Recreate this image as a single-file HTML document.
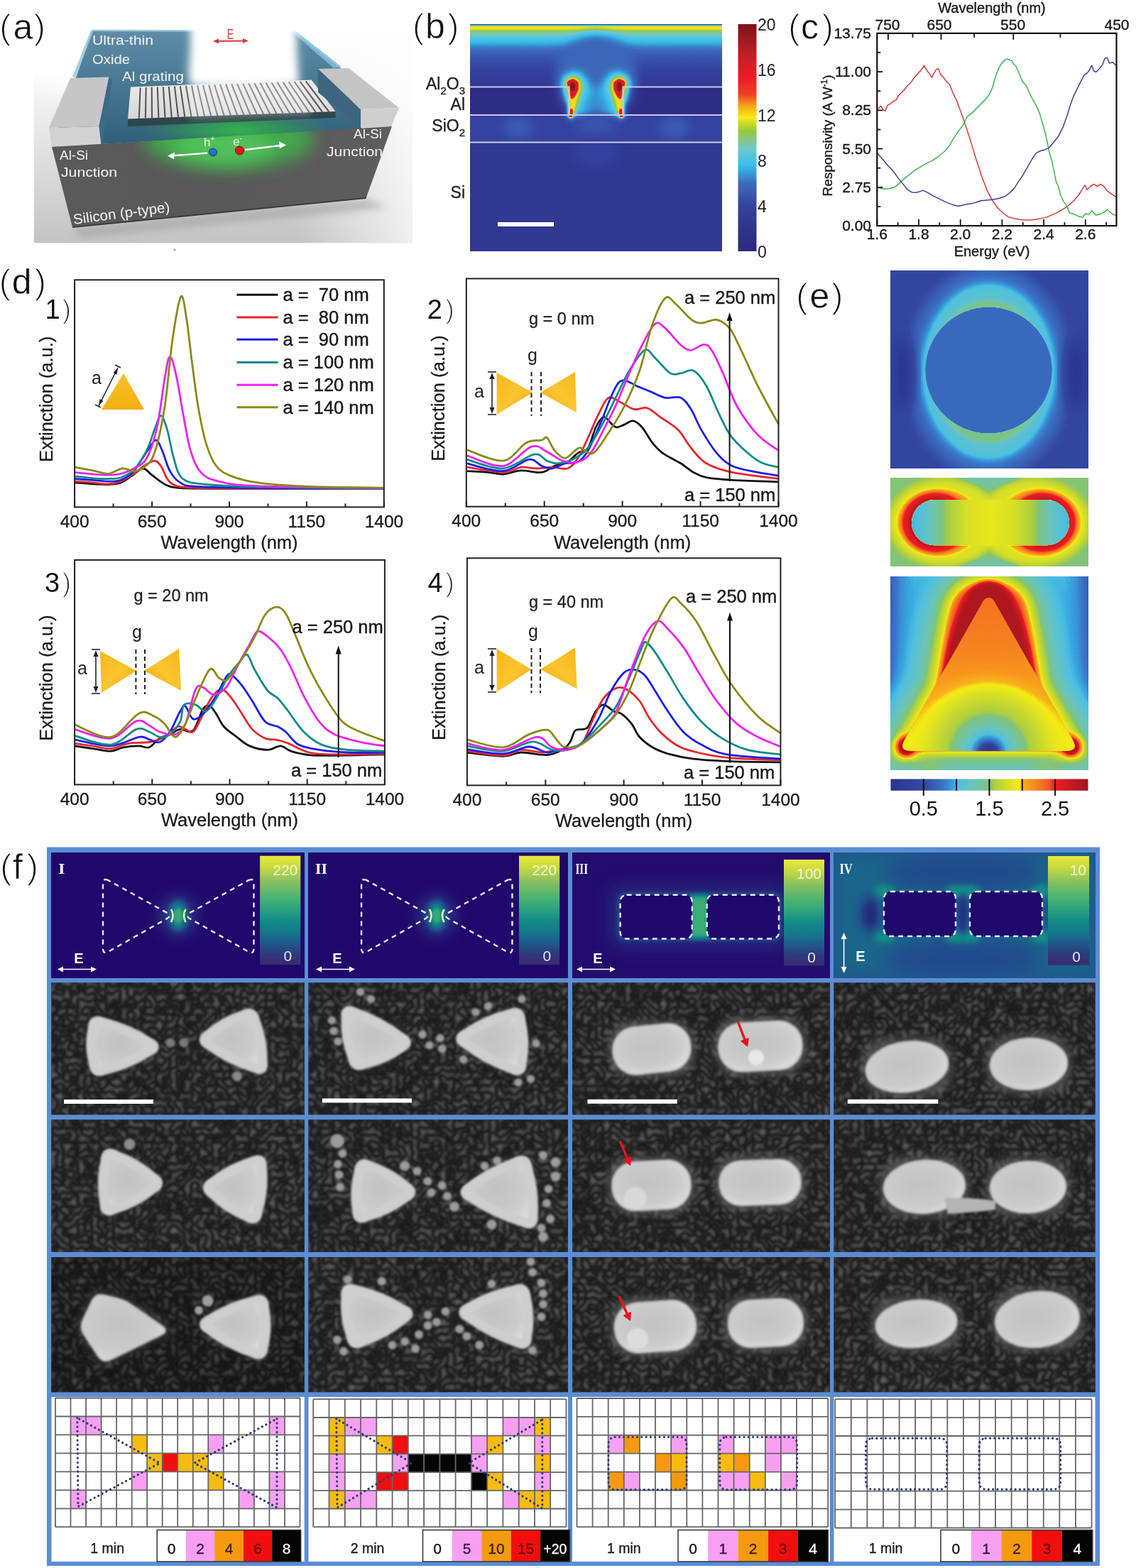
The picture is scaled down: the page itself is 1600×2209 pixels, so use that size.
<!DOCTYPE html>
<html><head><meta charset="utf-8"><title>Figure</title>
<style>html,body{margin:0;padding:0;background:#fff;width:1600px;height:2209px;overflow:hidden}svg{display:block}</style>
</head><body>
<svg width="1600" height="2209" viewBox="0 0 1600 2209" font-family="'Liberation Sans', Arial, sans-serif">
<defs>
<linearGradient id="goldL" x1="0" y1="0" x2="1" y2="1"><stop offset="0" stop-color="#f7b716"/><stop offset="0.5" stop-color="#fbc531"/><stop offset="1" stop-color="#f0a90a"/></linearGradient>
<linearGradient id="goldR" x1="1" y1="0" x2="0" y2="1"><stop offset="0" stop-color="#f7b716"/><stop offset="0.5" stop-color="#fbc531"/><stop offset="1" stop-color="#f0a90a"/></linearGradient>
<linearGradient id="goldT" x1="0" y1="0" x2="0" y2="1"><stop offset="0" stop-color="#f9c22a"/><stop offset="1" stop-color="#f2ae10"/></linearGradient>


<filter id="jetB" filterUnits="userSpaceOnUse" x="662" y="34" width="355" height="320" color-interpolation-filters="sRGB"><feColorMatrix type="matrix" values="1 0 0 0 0  1 0 0 0 0  1 0 0 0 0  0 0 0 0 1"/><feComponentTransfer><feFuncR type="table" tableValues="0.173 0.175 0.178 0.181 0.184 0.189 0.194 0.199 0.204 0.213 0.222 0.230 0.239 0.229 0.220 0.210 0.273 0.354 0.435 0.484 0.533 0.582 0.718 0.875 0.969 0.969 0.962 0.947 0.936 0.931 0.927 0.903 0.866 0.828 0.791 0.750 0.696 0.641 0.587 0.533 0.478"/><feFuncG type="table" tableValues="0.165 0.175 0.184 0.194 0.204 0.219 0.233 0.248 0.263 0.302 0.341 0.380 0.420 0.524 0.628 0.732 0.761 0.771 0.780 0.783 0.785 0.788 0.834 0.891 0.869 0.728 0.565 0.369 0.231 0.180 0.130 0.111 0.113 0.114 0.116 0.116 0.109 0.101 0.094 0.086 0.078"/><feFuncB type="table" tableValues="0.494 0.508 0.522 0.535 0.549 0.569 0.588 0.608 0.627 0.655 0.682 0.710 0.737 0.800 0.862 0.925 0.903 0.859 0.816 0.636 0.455 0.275 0.184 0.116 0.082 0.099 0.115 0.129 0.138 0.139 0.141 0.142 0.143 0.143 0.144 0.143 0.132 0.120 0.109 0.098 0.086"/></feComponentTransfer></filter>
<linearGradient id="bAir" x1="0" y1="34" x2="0" y2="123" gradientUnits="userSpaceOnUse"><stop offset="0.000" stop-color="#1f1f1f"/><stop offset="0.017" stop-color="#666666"/><stop offset="0.039" stop-color="#969696"/><stop offset="0.079" stop-color="#959595"/><stop offset="0.107" stop-color="#828282"/><stop offset="0.157" stop-color="#787878"/><stop offset="0.213" stop-color="#6b6b6b"/><stop offset="0.281" stop-color="#616161"/><stop offset="0.360" stop-color="#525252"/><stop offset="0.517" stop-color="#404040"/><stop offset="0.742" stop-color="#303030"/><stop offset="0.989" stop-color="#242424"/></linearGradient>
<linearGradient id="cbB" x1="0" y1="1" x2="0" y2="0"><stop offset="0.000" stop-color="rgb(44,42,126)"/><stop offset="0.100" stop-color="rgb(47,52,140)"/><stop offset="0.200" stop-color="rgb(52,67,160)"/><stop offset="0.300" stop-color="rgb(61,107,188)"/><stop offset="0.380" stop-color="rgb(53,192,239)"/><stop offset="0.450" stop-color="rgb(111,199,208)"/><stop offset="0.530" stop-color="rgb(151,201,61)"/><stop offset="0.590" stop-color="rgb(247,236,19)"/><stop offset="0.640" stop-color="rgb(247,164,28)"/><stop offset="0.690" stop-color="rgb(239,64,35)"/><stop offset="0.760" stop-color="rgb(236,28,36)"/><stop offset="0.870" stop-color="rgb(194,30,37)"/><stop offset="1.000" stop-color="rgb(122,20,22)"/></linearGradient>
<filter id="bb1" x="-50%" y="-50%" width="200%" height="200%" color-interpolation-filters="sRGB"><feGaussianBlur stdDeviation="1.2"/></filter><filter id="bb2" x="-50%" y="-50%" width="200%" height="200%" color-interpolation-filters="sRGB"><feGaussianBlur stdDeviation="2.5"/></filter><filter id="bb4" x="-50%" y="-50%" width="200%" height="200%" color-interpolation-filters="sRGB"><feGaussianBlur stdDeviation="4"/></filter><filter id="bb8" x="-50%" y="-50%" width="200%" height="200%" color-interpolation-filters="sRGB"><feGaussianBlur stdDeviation="8"/></filter><filter id="bb14" x="-50%" y="-50%" width="200%" height="200%" color-interpolation-filters="sRGB"><feGaussianBlur stdDeviation="14"/></filter>
<filter id="jetE1" filterUnits="userSpaceOnUse" x="1254" y="381.6" width="279" height="278.1" color-interpolation-filters="sRGB"><feColorMatrix type="matrix" values="1 0 0 0 0  1 0 0 0 0  1 0 0 0 0  0 0 0 0 1"/><feComponentTransfer><feFuncR type="table" tableValues="0.165 0.169 0.173 0.176 0.180 0.184 0.188 0.192 0.196 0.200 0.204 0.208 0.213 0.218 0.222 0.227 0.232 0.233 0.224 0.215 0.293 0.331 0.353 0.375 0.397 0.419 0.437 0.453 0.469 0.486 0.502 0.636 0.693 0.731 0.768 0.806 0.844 0.881 0.919 0.957 0.976 0.972 0.969 0.965 0.961 0.957 0.953 0.949 0.945 0.937 0.929 0.899 0.869 0.838 0.808 0.778 0.748 0.718 0.688 0.658 0.627"/><feFuncG type="table" tableValues="0.208 0.215 0.223 0.230 0.238 0.245 0.252 0.260 0.267 0.275 0.282 0.312 0.342 0.372 0.402 0.432 0.462 0.502 0.580 0.659 0.748 0.757 0.760 0.764 0.768 0.772 0.772 0.771 0.770 0.769 0.769 0.798 0.816 0.832 0.848 0.863 0.879 0.894 0.910 0.925 0.700 0.657 0.613 0.570 0.527 0.483 0.440 0.396 0.353 0.230 0.110 0.107 0.105 0.103 0.100 0.098 0.096 0.093 0.091 0.089 0.086"/><feFuncB type="table" tableValues="0.565 0.571 0.577 0.583 0.590 0.596 0.602 0.609 0.615 0.621 0.627 0.652 0.678 0.703 0.729 0.754 0.780 0.807 0.844 0.881 0.884 0.849 0.819 0.788 0.758 0.728 0.682 0.633 0.584 0.535 0.486 0.300 0.244 0.220 0.197 0.173 0.149 0.126 0.102 0.078 0.106 0.110 0.115 0.119 0.124 0.128 0.132 0.137 0.141 0.141 0.141 0.138 0.135 0.132 0.129 0.125 0.122 0.119 0.116 0.113 0.110"/></feComponentTransfer></filter><filter id="jetE2" filterUnits="userSpaceOnUse" x="1254" y="673.8" width="279" height="123.70000000000005" color-interpolation-filters="sRGB"><feColorMatrix type="matrix" values="1 0 0 0 0  1 0 0 0 0  1 0 0 0 0  0 0 0 0 1"/><feComponentTransfer><feFuncR type="table" tableValues="0.165 0.169 0.173 0.176 0.180 0.184 0.188 0.192 0.196 0.200 0.204 0.208 0.213 0.218 0.222 0.227 0.232 0.233 0.224 0.215 0.293 0.331 0.353 0.375 0.397 0.419 0.437 0.453 0.469 0.486 0.502 0.636 0.693 0.731 0.768 0.806 0.844 0.881 0.919 0.957 0.976 0.972 0.969 0.965 0.961 0.957 0.953 0.949 0.945 0.937 0.929 0.899 0.869 0.838 0.808 0.778 0.748 0.718 0.688 0.658 0.627"/><feFuncG type="table" tableValues="0.208 0.215 0.223 0.230 0.238 0.245 0.252 0.260 0.267 0.275 0.282 0.312 0.342 0.372 0.402 0.432 0.462 0.502 0.580 0.659 0.748 0.757 0.760 0.764 0.768 0.772 0.772 0.771 0.770 0.769 0.769 0.798 0.816 0.832 0.848 0.863 0.879 0.894 0.910 0.925 0.700 0.657 0.613 0.570 0.527 0.483 0.440 0.396 0.353 0.230 0.110 0.107 0.105 0.103 0.100 0.098 0.096 0.093 0.091 0.089 0.086"/><feFuncB type="table" tableValues="0.565 0.571 0.577 0.583 0.590 0.596 0.602 0.609 0.615 0.621 0.627 0.652 0.678 0.703 0.729 0.754 0.780 0.807 0.844 0.881 0.884 0.849 0.819 0.788 0.758 0.728 0.682 0.633 0.584 0.535 0.486 0.300 0.244 0.220 0.197 0.173 0.149 0.126 0.102 0.078 0.106 0.110 0.115 0.119 0.124 0.128 0.132 0.137 0.141 0.141 0.141 0.138 0.135 0.132 0.129 0.125 0.122 0.119 0.116 0.113 0.110"/></feComponentTransfer></filter><filter id="jetE3" filterUnits="userSpaceOnUse" x="1254" y="812" width="279" height="272.5" color-interpolation-filters="sRGB"><feColorMatrix type="matrix" values="1 0 0 0 0  1 0 0 0 0  1 0 0 0 0  0 0 0 0 1"/><feComponentTransfer><feFuncR type="table" tableValues="0.165 0.169 0.173 0.176 0.180 0.184 0.188 0.192 0.196 0.200 0.204 0.208 0.213 0.218 0.222 0.227 0.232 0.233 0.224 0.215 0.293 0.331 0.353 0.375 0.397 0.419 0.437 0.453 0.469 0.486 0.502 0.636 0.693 0.731 0.768 0.806 0.844 0.881 0.919 0.957 0.976 0.972 0.969 0.965 0.961 0.957 0.953 0.949 0.945 0.937 0.929 0.899 0.869 0.838 0.808 0.778 0.748 0.718 0.688 0.658 0.627"/><feFuncG type="table" tableValues="0.208 0.215 0.223 0.230 0.238 0.245 0.252 0.260 0.267 0.275 0.282 0.312 0.342 0.372 0.402 0.432 0.462 0.502 0.580 0.659 0.748 0.757 0.760 0.764 0.768 0.772 0.772 0.771 0.770 0.769 0.769 0.798 0.816 0.832 0.848 0.863 0.879 0.894 0.910 0.925 0.700 0.657 0.613 0.570 0.527 0.483 0.440 0.396 0.353 0.230 0.110 0.107 0.105 0.103 0.100 0.098 0.096 0.093 0.091 0.089 0.086"/><feFuncB type="table" tableValues="0.565 0.571 0.577 0.583 0.590 0.596 0.602 0.609 0.615 0.621 0.627 0.652 0.678 0.703 0.729 0.754 0.780 0.807 0.844 0.881 0.884 0.849 0.819 0.788 0.758 0.728 0.682 0.633 0.584 0.535 0.486 0.300 0.244 0.220 0.197 0.173 0.149 0.126 0.102 0.078 0.106 0.110 0.115 0.119 0.124 0.128 0.132 0.137 0.141 0.141 0.141 0.138 0.135 0.132 0.129 0.125 0.122 0.119 0.116 0.113 0.110"/></feComponentTransfer></filter><filter id="eb2" x="-50%" y="-50%" width="200%" height="200%" color-interpolation-filters="sRGB"><feGaussianBlur stdDeviation="2"/></filter><filter id="eb3" x="-50%" y="-50%" width="200%" height="200%" color-interpolation-filters="sRGB"><feGaussianBlur stdDeviation="3"/></filter><filter id="eb4" x="-50%" y="-50%" width="200%" height="200%" color-interpolation-filters="sRGB"><feGaussianBlur stdDeviation="4"/></filter><filter id="eb8" x="-50%" y="-50%" width="200%" height="200%" color-interpolation-filters="sRGB"><feGaussianBlur stdDeviation="8"/></filter><filter id="eb12" x="-50%" y="-50%" width="200%" height="200%" color-interpolation-filters="sRGB"><feGaussianBlur stdDeviation="12"/></filter><filter id="eb6" x="-50%" y="-50%" width="200%" height="200%" color-interpolation-filters="sRGB"><feGaussianBlur stdDeviation="6"/></filter><filter id="eb10" x="-50%" y="-50%" width="200%" height="200%" color-interpolation-filters="sRGB"><feGaussianBlur stdDeviation="10"/></filter><filter id="eb16" x="-50%" y="-50%" width="200%" height="200%" color-interpolation-filters="sRGB"><feGaussianBlur stdDeviation="16"/></filter><linearGradient id="cbE" x1="0" y1="0" x2="1" y2="0"><stop offset="0.000" stop-color="rgb(42,53,144)"/><stop offset="0.167" stop-color="rgb(52,72,160)"/><stop offset="0.280" stop-color="rgb(60,124,204)"/><stop offset="0.330" stop-color="rgb(53,184,232)"/><stop offset="0.334" stop-color="rgb(79,192,224)"/><stop offset="0.420" stop-color="rgb(108,197,184)"/><stop offset="0.500" stop-color="rgb(128,196,124)"/><stop offset="0.520" stop-color="rgb(169,205,67)"/><stop offset="0.650" stop-color="rgb(244,236,20)"/><stop offset="0.666" stop-color="rgb(249,179,27)"/><stop offset="0.800" stop-color="rgb(241,90,36)"/><stop offset="0.833" stop-color="rgb(237,28,36)"/><stop offset="1.000" stop-color="rgb(160,22,28)"/></linearGradient><linearGradient id="eTriBg" x1="0" y1="0" x2="1" y2="0"><stop offset="0.00" stop-color="#383838"/><stop offset="0.05" stop-color="#4a4a4a"/><stop offset="0.12" stop-color="#575757"/><stop offset="0.22" stop-color="#666666"/><stop offset="0.50" stop-color="#707070"/><stop offset="0.78" stop-color="#666666"/><stop offset="0.88" stop-color="#575757"/><stop offset="0.95" stop-color="#4a4a4a"/><stop offset="1.00" stop-color="#383838"/></linearGradient><linearGradient id="eTriIn" x1="0" y1="842" x2="0" y2="1058" gradientUnits="userSpaceOnUse"><stop offset="0.00" stop-color="#c2c2c2"/><stop offset="0.30" stop-color="#bdbdbd"/><stop offset="0.50" stop-color="#b5b5b5"/><stop offset="0.70" stop-color="#ababab"/><stop offset="1.00" stop-color="#a3a3a3"/></linearGradient><linearGradient id="eRodIn" x1="1284" y1="0" x2="1506" y2="0" gradientUnits="userSpaceOnUse"><stop offset="0.00" stop-color="#525252"/><stop offset="0.07" stop-color="#5c5c5c"/><stop offset="0.20" stop-color="#808080"/><stop offset="0.35" stop-color="#999999"/><stop offset="0.50" stop-color="#a1a1a1"/><stop offset="0.65" stop-color="#999999"/><stop offset="0.80" stop-color="#808080"/><stop offset="0.93" stop-color="#5c5c5c"/><stop offset="1.00" stop-color="#525252"/></linearGradient><radialGradient id="eSpot"><stop offset="0" stop-color="#000000"/><stop offset="0.08" stop-color="#1a1a1a"/><stop offset="0.16" stop-color="#474747"/><stop offset="0.24" stop-color="#5c5c5c"/><stop offset="0.35" stop-color="#737373"/><stop offset="0.5" stop-color="#878787"/><stop offset="0.7" stop-color="#999999"/><stop offset="1" stop-color="#a8a8a8" stop-opacity="0"/></radialGradient><clipPath id="eTriClip"><path d="M1385,846 Q1392.5,838 1400,846 L1512,1044 Q1519,1058 1503,1058 L1282,1058 Q1266,1058 1273,1044 Z"/></clipPath>
<filter id="vir0" filterUnits="userSpaceOnUse" x="72.5" y="1201.5" width="356.25" height="176.0" color-interpolation-filters="sRGB"><feColorMatrix type="matrix" values="1 0 0 0 0  1 0 0 0 0  1 0 0 0 0  0 0 0 0 1"/><feComponentTransfer><feFuncR type="table" tableValues="0.129 0.134 0.139 0.144 0.149 0.144 0.139 0.134 0.129 0.122 0.115 0.108 0.101 0.093 0.086 0.082 0.078 0.075 0.071 0.094 0.118 0.141 0.165 0.190 0.216 0.241 0.267 0.313 0.360 0.407 0.454 0.500 0.556 0.613 0.670 0.727 0.784 0.820 0.855 0.890 0.925"/><feFuncG type="table" tableValues="0.031 0.059 0.086 0.114 0.141 0.180 0.220 0.259 0.298 0.325 0.353 0.380 0.408 0.435 0.463 0.482 0.502 0.522 0.541 0.563 0.584 0.606 0.627 0.645 0.663 0.680 0.698 0.709 0.719 0.730 0.740 0.751 0.771 0.794 0.817 0.840 0.863 0.876 0.890 0.904 0.918"/><feFuncB type="table" tableValues="0.420 0.434 0.449 0.464 0.478 0.496 0.514 0.531 0.549 0.548 0.546 0.545 0.544 0.542 0.541 0.539 0.537 0.535 0.533 0.525 0.518 0.510 0.502 0.490 0.478 0.467 0.455 0.443 0.431 0.419 0.407 0.395 0.369 0.339 0.310 0.280 0.251 0.247 0.243 0.239 0.235"/></feComponentTransfer></filter><filter id="vir1" filterUnits="userSpaceOnUse" x="434.5" y="1201.5" width="365.5" height="176.0" color-interpolation-filters="sRGB"><feColorMatrix type="matrix" values="1 0 0 0 0  1 0 0 0 0  1 0 0 0 0  0 0 0 0 1"/><feComponentTransfer><feFuncR type="table" tableValues="0.129 0.134 0.139 0.144 0.149 0.144 0.139 0.134 0.129 0.122 0.115 0.108 0.101 0.093 0.086 0.082 0.078 0.075 0.071 0.094 0.118 0.141 0.165 0.190 0.216 0.241 0.267 0.313 0.360 0.407 0.454 0.500 0.556 0.613 0.670 0.727 0.784 0.820 0.855 0.890 0.925"/><feFuncG type="table" tableValues="0.031 0.059 0.086 0.114 0.141 0.180 0.220 0.259 0.298 0.325 0.353 0.380 0.408 0.435 0.463 0.482 0.502 0.522 0.541 0.563 0.584 0.606 0.627 0.645 0.663 0.680 0.698 0.709 0.719 0.730 0.740 0.751 0.771 0.794 0.817 0.840 0.863 0.876 0.890 0.904 0.918"/><feFuncB type="table" tableValues="0.420 0.434 0.449 0.464 0.478 0.496 0.514 0.531 0.549 0.548 0.546 0.545 0.544 0.542 0.541 0.539 0.537 0.535 0.533 0.525 0.518 0.510 0.502 0.490 0.478 0.467 0.455 0.443 0.431 0.419 0.407 0.395 0.369 0.339 0.310 0.280 0.251 0.247 0.243 0.239 0.235"/></feComponentTransfer></filter><filter id="vir2" filterUnits="userSpaceOnUse" x="806" y="1201.5" width="362.75" height="176.0" color-interpolation-filters="sRGB"><feColorMatrix type="matrix" values="1 0 0 0 0  1 0 0 0 0  1 0 0 0 0  0 0 0 0 1"/><feComponentTransfer><feFuncR type="table" tableValues="0.129 0.134 0.139 0.144 0.149 0.144 0.139 0.134 0.129 0.122 0.115 0.108 0.101 0.093 0.086 0.082 0.078 0.075 0.071 0.094 0.118 0.141 0.165 0.190 0.216 0.241 0.267 0.313 0.360 0.407 0.454 0.500 0.556 0.613 0.670 0.727 0.784 0.820 0.855 0.890 0.925"/><feFuncG type="table" tableValues="0.031 0.059 0.086 0.114 0.141 0.180 0.220 0.259 0.298 0.325 0.353 0.380 0.408 0.435 0.463 0.482 0.502 0.522 0.541 0.563 0.584 0.606 0.627 0.645 0.663 0.680 0.698 0.709 0.719 0.730 0.740 0.751 0.771 0.794 0.817 0.840 0.863 0.876 0.890 0.904 0.918"/><feFuncB type="table" tableValues="0.420 0.434 0.449 0.464 0.478 0.496 0.514 0.531 0.549 0.548 0.546 0.545 0.544 0.542 0.541 0.539 0.537 0.535 0.533 0.525 0.518 0.510 0.502 0.490 0.478 0.467 0.455 0.443 0.431 0.419 0.407 0.395 0.369 0.339 0.310 0.280 0.251 0.247 0.243 0.239 0.235"/></feComponentTransfer></filter><filter id="vir3" filterUnits="userSpaceOnUse" x="1174.5" y="1201.5" width="368.0" height="176.0" color-interpolation-filters="sRGB"><feColorMatrix type="matrix" values="1 0 0 0 0  1 0 0 0 0  1 0 0 0 0  0 0 0 0 1"/><feComponentTransfer><feFuncR type="table" tableValues="0.129 0.134 0.139 0.144 0.149 0.144 0.139 0.134 0.129 0.122 0.115 0.108 0.101 0.093 0.086 0.082 0.078 0.075 0.071 0.094 0.118 0.141 0.165 0.190 0.216 0.241 0.267 0.313 0.360 0.407 0.454 0.500 0.556 0.613 0.670 0.727 0.784 0.820 0.855 0.890 0.925"/><feFuncG type="table" tableValues="0.031 0.059 0.086 0.114 0.141 0.180 0.220 0.259 0.298 0.325 0.353 0.380 0.408 0.435 0.463 0.482 0.502 0.522 0.541 0.563 0.584 0.606 0.627 0.645 0.663 0.680 0.698 0.709 0.719 0.730 0.740 0.751 0.771 0.794 0.817 0.840 0.863 0.876 0.890 0.904 0.918"/><feFuncB type="table" tableValues="0.420 0.434 0.449 0.464 0.478 0.496 0.514 0.531 0.549 0.548 0.546 0.545 0.544 0.542 0.541 0.539 0.537 0.535 0.533 0.525 0.518 0.510 0.502 0.490 0.478 0.467 0.455 0.443 0.431 0.419 0.407 0.395 0.369 0.339 0.310 0.280 0.251 0.247 0.243 0.239 0.235"/></feComponentTransfer></filter><linearGradient id="cbV" x1="0" y1="0" x2="0" y2="1"><stop offset="0.00" stop-color="rgb(234,232,58)"/><stop offset="0.10" stop-color="rgb(200,220,64)"/><stop offset="0.25" stop-color="rgb(130,190,100)"/><stop offset="0.40" stop-color="rgb(68,178,116)"/><stop offset="0.50" stop-color="rgb(42,160,128)"/><stop offset="0.60" stop-color="rgb(18,138,136)"/><stop offset="0.70" stop-color="rgb(21,120,136)"/><stop offset="0.80" stop-color="rgb(30,90,138)"/><stop offset="0.90" stop-color="rgb(46,58,122)"/><stop offset="1.00" stop-color="rgb(58,42,112)"/></linearGradient><filter id="fb1" x="-50%" y="-50%" width="200%" height="200%" color-interpolation-filters="sRGB"><feGaussianBlur stdDeviation="1"/></filter><filter id="fb2" x="-50%" y="-50%" width="200%" height="200%" color-interpolation-filters="sRGB"><feGaussianBlur stdDeviation="2"/></filter><filter id="fb3" x="-50%" y="-50%" width="200%" height="200%" color-interpolation-filters="sRGB"><feGaussianBlur stdDeviation="3"/></filter><filter id="fb5" x="-50%" y="-50%" width="200%" height="200%" color-interpolation-filters="sRGB"><feGaussianBlur stdDeviation="5"/></filter><filter id="fb8" x="-50%" y="-50%" width="200%" height="200%" color-interpolation-filters="sRGB"><feGaussianBlur stdDeviation="8"/></filter><filter id="fb12" x="-50%" y="-50%" width="200%" height="200%" color-interpolation-filters="sRGB"><feGaussianBlur stdDeviation="12"/></filter><filter id="semtex" filterUnits="userSpaceOnUse" x="70" y="1380" width="1475" height="585" color-interpolation-filters="sRGB">
<feTurbulence type="turbulence" baseFrequency="0.1" numOctaves="1" seed="5"/>
<feColorMatrix type="matrix" values="0.42 0 0 0 0.1  0.42 0 0 0 0.1  0.42 0 0 0 0.1  0 0 0 0 1"/>
<feGaussianBlur stdDeviation="1.3"/>
<feComposite in2="SourceGraphic" operator="in"/>
</filter>
<filter id="part" x="-20%" y="-20%" width="140%" height="140%" color-interpolation-filters="sRGB"><feGaussianBlur stdDeviation="1.6"/></filter>
<filter id="halo" x="-50%" y="-50%" width="200%" height="200%" color-interpolation-filters="sRGB"><feGaussianBlur stdDeviation="6"/></filter>
<radialGradient id="partG" cx="0.45" cy="0.45" r="0.6"><stop offset="0" stop-color="#c2c2c2"/><stop offset="0.7" stop-color="#cbcbcb"/><stop offset="1" stop-color="#dcdcdc"/></radialGradient>


<linearGradient id="aBg" x1="0" y1="40" x2="0" y2="342" gradientUnits="userSpaceOnUse"><stop offset="0" stop-color="#ffffff"/><stop offset="0.3" stop-color="#f4f4f4"/><stop offset="0.7" stop-color="#d8d8d8"/><stop offset="1" stop-color="#c4c4c4"/></linearGradient>
<linearGradient id="aBgR" x1="47" y1="0" x2="581" y2="0" gradientUnits="userSpaceOnUse"><stop offset="0" stop-color="#ffffff" stop-opacity="0"/><stop offset="0.7" stop-color="#ffffff" stop-opacity="0"/><stop offset="1" stop-color="#ffffff" stop-opacity="0.75"/></linearGradient>
<linearGradient id="aOx" x1="0" y1="43" x2="0" y2="205" gradientUnits="userSpaceOnUse"><stop offset="0" stop-color="#5f8ca6"/><stop offset="0.5" stop-color="#467791"/><stop offset="1" stop-color="#2f5f78"/></linearGradient>
<linearGradient id="aSi" x1="75" y1="0" x2="552" y2="0" gradientUnits="userSpaceOnUse"><stop offset="0" stop-color="#5a5a5a"/><stop offset="0.5" stop-color="#585858"/><stop offset="1" stop-color="#5e5e5e"/></linearGradient>
<linearGradient id="aGrTop" x1="0" y1="112" x2="0" y2="168" gradientUnits="userSpaceOnUse"><stop offset="0" stop-color="#ececec"/><stop offset="1" stop-color="#d6d6d6"/></linearGradient>
<radialGradient id="aGreen"><stop offset="0" stop-color="#34c24a" stop-opacity="0.95"/><stop offset="0.5" stop-color="#2eae44" stop-opacity="0.6"/><stop offset="1" stop-color="#2a9a40" stop-opacity="0"/></radialGradient>
<radialGradient id="aGlowW"><stop offset="0" stop-color="#ffffff"/><stop offset="0.6" stop-color="#ffffff" stop-opacity="0.95"/><stop offset="1" stop-color="#ffffff" stop-opacity="0"/></radialGradient>
<filter id="ab2" x="-20%" y="-20%" width="140%" height="140%"><feGaussianBlur stdDeviation="2"/></filter>
<filter id="ab6" x="-50%" y="-50%" width="200%" height="200%"><feGaussianBlur stdDeviation="6"/></filter>
<filter id="ab12" x="-50%" y="-50%" width="200%" height="200%"><feGaussianBlur stdDeviation="12"/></filter>
<clipPath id="aClip"><rect x="47.5" y="30" width="533.5" height="312.5"/></clipPath>
<clipPath id="aSiClip"><path d="M73,207 L552,178 L515.6,279 L102,320 Z"/></clipPath>
</defs>
<rect width="1600" height="2209" fill="#fff"/>
<path d="M105.1,679.9 C109.4,680.2 122.6,681.3 130.5,681.8 C138.4,682.2 145.6,682.8 152.3,682.5 C158.9,682.2 164.9,681.9 170.4,679.9 C175.8,678.0 179.7,674.2 184.9,670.9 C190.0,667.6 196.4,660.3 201.2,660.0 C206.0,659.7 209.3,665.7 213.9,669.1 C218.4,672.4 224.1,677.2 228.4,679.9 C232.6,682.7 233.8,684.0 239.3,685.4 C244.7,686.7 246.5,687.4 261.0,687.9 C275.5,688.4 279.6,688.2 326.3,688.3 C372.9,688.3 505.1,688.3 540.9,688.3" fill="none" stroke="#111111" stroke-width="2.8" stroke-linejoin="round"/>
<path d="M105.1,678.1 C109.4,678.4 122.6,679.3 130.5,679.9 C138.4,680.5 145.6,682.1 152.3,681.8 C158.9,681.5 164.3,680.5 170.4,678.1 C176.4,675.7 183.1,670.9 188.5,667.3 C193.9,663.6 198.2,659.4 203.0,656.4 C207.8,653.4 213.6,649.1 217.5,649.1 C221.4,649.1 223.5,652.1 226.6,656.4 C229.6,660.6 232.3,670.0 235.6,674.5 C238.9,679.0 240.5,681.5 246.5,683.6 C252.5,685.7 252.5,686.4 271.9,687.2 C291.2,688.0 317.7,688.1 362.5,688.3 C407.3,688.5 511.1,688.3 540.9,688.3" fill="none" stroke="#e8262a" stroke-width="2.8" stroke-linejoin="round"/>
<path d="M105.1,674.5 C109.4,674.8 122.6,675.7 130.5,676.3 C138.4,676.9 145.6,678.1 152.3,678.1 C158.9,678.1 164.3,678.7 170.4,676.3 C176.4,673.9 182.5,670.3 188.5,663.6 C194.5,657.0 201.5,643.7 206.6,636.4 C211.8,629.2 215.7,620.4 219.3,620.1 C222.9,619.8 225.1,627.4 228.4,634.6 C231.7,641.9 235.0,656.1 239.3,663.6 C243.5,671.2 247.7,676.3 253.8,679.9 C259.8,683.6 257.4,684.1 275.5,685.4 C293.6,686.6 318.3,687.1 362.5,687.6 C406.7,688.0 511.1,688.2 540.9,688.3" fill="none" stroke="#1c1cf0" stroke-width="2.8" stroke-linejoin="round"/>
<path d="M105.1,670.9 C109.4,671.4 122.6,673.2 130.5,673.8 C138.4,674.4 145.6,674.7 152.3,674.5 C158.9,674.3 164.3,674.8 170.4,672.7 C176.4,670.6 182.5,668.2 188.5,661.8 C194.5,655.5 201.8,644.0 206.6,634.6 C211.5,625.3 214.2,613.8 217.5,605.6 C220.8,597.5 223.5,585.7 226.6,585.7 C229.6,585.7 232.6,595.7 235.6,605.6 C238.6,615.6 241.1,634.0 244.7,645.5 C248.3,657.0 249.8,668.3 257.4,674.5 C264.9,680.7 272.5,680.5 290.0,682.5 C307.5,684.4 320.7,685.1 362.5,686.1 C404.3,687.1 511.1,687.9 540.9,688.3" fill="none" stroke="#108a8a" stroke-width="2.8" stroke-linejoin="round"/>
<path d="M105.1,665.4 C109.4,665.9 122.6,667.4 130.5,668.0 C138.4,668.6 145.6,669.2 152.3,669.1 C158.9,668.9 164.3,668.8 170.4,667.3 C176.4,665.7 182.5,663.6 188.5,660.0 C194.5,656.4 201.2,655.2 206.6,645.5 C212.1,635.8 216.9,620.7 221.1,602.0 C225.4,583.3 229.0,549.7 232.0,533.1 C235.0,516.5 236.5,502.9 239.3,502.3 C242.0,501.7 245.3,516.5 248.3,529.5 C251.3,542.5 254.1,562.7 257.4,580.3 C260.7,597.8 264.0,620.4 268.3,634.6 C272.5,648.8 276.1,658.2 282.8,665.4 C289.4,672.7 294.8,674.9 308.1,678.1 C321.4,681.3 323.7,683.1 362.5,684.7 C401.3,686.2 511.1,687.1 540.9,687.6" fill="none" stroke="#f020f0" stroke-width="2.8" stroke-linejoin="round"/>
<path d="M105.1,658.2 C109.4,659.0 122.6,661.4 130.5,662.9 C138.4,664.4 145.3,667.7 152.3,667.3 C159.2,666.8 166.1,660.6 172.2,660.0 C178.2,659.4 183.4,663.9 188.5,663.6 C193.6,663.3 198.2,662.4 203.0,658.2 C207.8,654.0 212.7,652.5 217.5,638.3 C222.3,624.1 227.8,599.6 232.0,573.0 C236.2,546.4 239.1,504.6 242.9,478.8 C246.7,452.9 251.5,422.7 254.8,417.9 C258.2,413.0 260.3,434.8 262.8,449.8 C265.4,464.7 267.3,487.2 270.1,507.8 C272.8,528.3 275.8,553.7 279.1,573.0 C282.5,592.3 285.8,609.9 290.0,623.8 C294.2,637.6 298.5,648.5 304.5,656.4 C310.5,664.2 316.6,667.0 326.3,670.9 C335.9,674.8 344.4,677.5 362.5,679.9 C380.6,682.4 405.3,684.2 435.0,685.4 C464.7,686.6 523.2,686.9 540.9,687.2" fill="none" stroke="#8a8a16" stroke-width="2.8" stroke-linejoin="round"/>
<rect x="105.1" y="394.3" width="435.7" height="320.1" fill="none" stroke="#222" stroke-width="2"/>
<line x1="105.1" y1="714.4" x2="105.1" y2="706.4" stroke="#222" stroke-width="2"/>
<line x1="159.6" y1="714.4" x2="159.6" y2="709.4" stroke="#222" stroke-width="2"/>
<line x1="214.1" y1="714.4" x2="214.1" y2="706.4" stroke="#222" stroke-width="2"/>
<line x1="268.5" y1="714.4" x2="268.5" y2="709.4" stroke="#222" stroke-width="2"/>
<line x1="323.0" y1="714.4" x2="323.0" y2="706.4" stroke="#222" stroke-width="2"/>
<line x1="377.5" y1="714.4" x2="377.5" y2="709.4" stroke="#222" stroke-width="2"/>
<line x1="431.9" y1="714.4" x2="431.9" y2="706.4" stroke="#222" stroke-width="2"/>
<line x1="486.4" y1="714.4" x2="486.4" y2="709.4" stroke="#222" stroke-width="2"/>
<line x1="540.9" y1="714.4" x2="540.9" y2="706.4" stroke="#222" stroke-width="2"/>
<text x="105.1" y="742.9" font-size="24.5" text-anchor="middle" fill="#1a1a1a" stroke="#1a1a1a" stroke-width="0.3">400</text>
<text x="214.1" y="742.9" font-size="24.5" text-anchor="middle" fill="#1a1a1a" stroke="#1a1a1a" stroke-width="0.3">650</text>
<text x="323.0" y="742.9" font-size="24.5" text-anchor="middle" fill="#1a1a1a" stroke="#1a1a1a" stroke-width="0.3">900</text>
<text x="431.9" y="742.9" font-size="24.5" text-anchor="middle" fill="#1a1a1a" stroke="#1a1a1a" stroke-width="0.3">1150</text>
<text x="540.9" y="742.9" font-size="24.5" text-anchor="middle" fill="#1a1a1a" stroke="#1a1a1a" stroke-width="0.3">1400</text>
<text x="323.0" y="773.4" font-size="25.5" text-anchor="middle" fill="#1a1a1a" stroke="#1a1a1a" stroke-width="0.3">Wavelength (nm)</text>
<text transform="translate(74.1,562.3) rotate(-90)" font-size="25.5" text-anchor="middle" fill="#1a1a1a" stroke="#1a1a1a" stroke-width="0.3">Extinction (a.u.)</text>
<path d="M657.9,663.6 C662.7,663.9 678.4,664.7 686.9,665.4 C695.3,666.2 700.8,668.4 708.6,668.0 C716.5,667.6 724.9,663.3 734.0,662.9 C743.1,662.5 755.1,666.5 763.0,665.4 C770.9,664.4 775.1,658.8 781.1,656.4 C787.2,654.0 793.8,654.0 799.3,650.9 C804.7,647.9 808.9,641.6 813.8,638.3 C818.6,634.9 824.0,637.0 828.3,631.0 C832.5,625.0 835.5,609.3 839.1,602.0 C842.8,594.8 846.4,588.4 850.0,587.5 C853.6,586.6 857.9,594.1 860.9,596.6 C863.9,599.0 865.1,601.7 868.1,602.0 C871.1,602.3 875.1,599.9 879.0,598.4 C882.9,596.9 887.5,592.3 891.7,592.9 C895.9,593.5 899.8,596.9 904.4,602.0 C908.9,607.1 914.0,617.7 918.9,623.8 C923.7,629.8 926.7,633.4 933.4,638.3 C940.0,643.1 951.5,648.2 958.8,652.8 C966.0,657.3 970.8,662.1 976.9,665.4 C982.9,668.8 985.9,670.9 995.0,672.7 C1004.1,674.5 1014.3,675.3 1031.3,676.3 C1048.2,677.3 1085.6,678.4 1096.5,678.9" fill="none" stroke="#111111" stroke-width="2.8" stroke-linejoin="round"/>
<path d="M657.9,658.2 C666.3,659.4 695.9,665.4 708.6,665.4 C721.3,665.4 726.1,659.1 734.0,658.2 C741.9,657.3 748.5,660.0 755.8,660.0 C763.0,660.0 770.3,658.2 777.5,658.2 C784.8,658.2 793.2,662.1 799.3,660.0 C805.3,657.9 808.9,652.8 813.8,645.5 C818.6,638.3 823.4,626.8 828.3,616.5 C833.1,606.2 837.9,593.2 842.8,583.9 C847.6,574.5 851.8,563.0 857.3,560.3 C862.7,557.6 869.3,564.8 875.4,567.6 C881.4,570.3 887.5,575.4 893.5,576.6 C899.5,577.8 905.6,573.0 911.6,574.8 C917.7,576.6 922.5,582.4 929.8,587.5 C937.0,592.6 947.9,598.4 955.1,605.6 C962.4,612.9 966.6,623.1 973.3,631.0 C979.9,638.9 985.3,647.0 995.0,652.8 C1004.7,658.5 1014.3,661.8 1031.3,665.4 C1048.2,669.1 1085.6,673.0 1096.5,674.5" fill="none" stroke="#e8262a" stroke-width="2.8" stroke-linejoin="round"/>
<path d="M657.9,652.8 C666.3,654.6 694.1,664.5 708.6,663.6 C723.1,662.7 735.8,648.5 744.9,647.3 C753.9,646.1 757.6,654.3 763.0,656.4 C768.4,658.5 772.1,660.6 777.5,660.0 C782.9,659.4 789.6,654.3 795.6,652.8 C801.7,651.2 808.3,654.0 813.8,650.9 C819.2,647.9 822.8,644.0 828.3,634.6 C833.7,625.3 840.9,607.4 846.4,594.8 C851.8,582.1 856.6,567.9 860.9,558.5 C865.1,549.1 868.1,542.2 871.8,538.6 C875.4,534.9 878.4,535.8 882.6,536.8 C886.9,537.7 891.7,541.6 897.1,544.0 C902.6,546.4 908.6,548.5 915.3,551.3 C921.9,554.0 929.8,558.8 937.0,560.3 C944.3,561.8 952.7,557.6 958.8,560.3 C964.8,563.0 968.4,569.1 973.3,576.6 C978.1,584.2 981.7,595.4 987.8,605.6 C993.8,615.9 1002.3,629.8 1009.5,638.3 C1016.8,646.7 1021.6,651.8 1031.3,656.4 C1040.9,660.9 1056.6,663.1 1067.5,665.4 C1078.4,667.7 1091.7,669.4 1096.5,670.2" fill="none" stroke="#1c1cf0" stroke-width="2.8" stroke-linejoin="round"/>
<path d="M657.9,647.3 C666.3,649.4 692.9,661.2 708.6,660.0 C724.3,658.8 741.9,641.9 752.1,640.1 C762.4,638.3 764.8,647.0 770.3,649.1 C775.7,651.2 778.7,653.1 784.8,652.8 C790.8,652.5 799.3,650.9 806.5,647.3 C813.8,643.7 821.0,639.8 828.3,631.0 C835.5,622.2 843.4,606.8 850.0,594.8 C856.6,582.7 862.1,570.6 868.1,558.5 C874.2,546.4 879.6,533.1 886.3,522.3 C892.9,511.4 902.0,496.3 908.0,493.3 C914.0,490.2 916.5,498.7 922.5,504.1 C928.5,509.6 938.2,522.3 944.3,525.9 C950.3,529.5 953.3,526.5 958.8,525.9 C964.2,525.3 970.8,519.2 976.9,522.3 C982.9,525.3 989.0,533.7 995.0,544.0 C1001.0,554.3 1007.1,571.8 1013.1,583.9 C1019.2,596.0 1022.2,605.6 1031.3,616.5 C1040.3,627.4 1056.6,642.2 1067.5,649.1 C1078.4,656.1 1091.7,656.7 1096.5,658.2" fill="none" stroke="#108a8a" stroke-width="2.8" stroke-linejoin="round"/>
<path d="M657.9,641.9 C666.3,644.3 693.5,658.5 708.6,656.4 C723.7,654.3 738.2,632.5 748.5,629.2 C758.8,625.9 763.0,633.1 770.3,636.4 C777.5,639.8 784.8,646.7 792.0,649.1 C799.3,651.5 807.1,652.8 813.8,650.9 C820.4,649.1 825.8,645.8 831.9,638.3 C837.9,630.7 844.0,617.1 850.0,605.6 C856.0,594.1 862.1,582.7 868.1,569.4 C874.2,556.1 880.2,539.8 886.3,525.9 C892.3,512.0 898.3,497.6 904.4,486.0 C910.4,474.4 917.1,460.2 922.5,456.3 C927.9,452.3 931.0,457.5 937.0,462.4 C943.0,467.4 952.7,480.9 958.8,486.0 C964.8,491.1 967.8,493.4 973.3,493.3 C978.7,493.1 986.5,485.3 991.4,485.3 C996.2,485.3 998.0,487.1 1002.3,493.3 C1006.5,499.4 1010.7,509.0 1016.8,522.3 C1022.8,535.5 1030.0,557.9 1038.5,573.0 C1047.0,588.1 1057.8,602.6 1067.5,612.9 C1077.2,623.1 1091.7,631.0 1096.5,634.6" fill="none" stroke="#f020f0" stroke-width="2.8" stroke-linejoin="round"/>
<path d="M657.9,633.9 C666.3,636.4 694.7,650.8 708.6,649.1 C722.5,647.4 732.2,628.6 741.3,623.8 C750.3,618.9 758.2,621.3 763.0,620.1 C767.8,618.9 767.2,614.1 770.3,616.5 C773.3,618.9 776.9,629.8 781.1,634.6 C785.4,639.5 790.8,645.5 795.6,645.5 C800.5,645.5 806.5,637.0 810.1,634.6 C813.8,632.2 813.1,630.4 817.4,631.0 C821.6,631.6 828.9,641.9 835.5,638.3 C842.1,634.6 850.0,620.1 857.3,609.3 C864.5,598.4 871.8,587.5 879.0,573.0 C886.3,558.5 894.1,541.6 900.8,522.3 C907.4,502.9 912.8,474.0 918.9,457.0 C924.9,440.0 931.6,424.9 937.0,420.0 C942.4,415.2 945.5,423.0 951.5,428.0 C957.5,433.0 967.2,445.2 973.3,449.8 C979.3,454.3 981.7,455.1 987.8,455.2 C993.8,455.3 1002.9,449.3 1009.5,450.5 C1016.1,451.7 1022.2,455.9 1027.6,462.4 C1033.1,469.0 1035.5,476.0 1042.1,489.6 C1048.8,503.2 1058.4,526.0 1067.5,544.0 C1076.6,562.0 1091.7,588.7 1096.5,597.7" fill="none" stroke="#8a8a16" stroke-width="2.8" stroke-linejoin="round"/>
<rect x="656.8" y="392.5" width="439.7" height="321.2" fill="none" stroke="#222" stroke-width="2"/>
<line x1="656.8" y1="713.7" x2="656.8" y2="705.7" stroke="#222" stroke-width="2"/>
<line x1="711.8" y1="713.7" x2="711.8" y2="708.7" stroke="#222" stroke-width="2"/>
<line x1="766.7" y1="713.7" x2="766.7" y2="705.7" stroke="#222" stroke-width="2"/>
<line x1="821.7" y1="713.7" x2="821.7" y2="708.7" stroke="#222" stroke-width="2"/>
<line x1="876.6" y1="713.7" x2="876.6" y2="705.7" stroke="#222" stroke-width="2"/>
<line x1="931.6" y1="713.7" x2="931.6" y2="708.7" stroke="#222" stroke-width="2"/>
<line x1="986.6" y1="713.7" x2="986.6" y2="705.7" stroke="#222" stroke-width="2"/>
<line x1="1041.5" y1="713.7" x2="1041.5" y2="708.7" stroke="#222" stroke-width="2"/>
<line x1="1096.5" y1="713.7" x2="1096.5" y2="705.7" stroke="#222" stroke-width="2"/>
<text x="656.8" y="742.2" font-size="24.5" text-anchor="middle" fill="#1a1a1a" stroke="#1a1a1a" stroke-width="0.3">400</text>
<text x="766.7" y="742.2" font-size="24.5" text-anchor="middle" fill="#1a1a1a" stroke="#1a1a1a" stroke-width="0.3">650</text>
<text x="876.6" y="742.2" font-size="24.5" text-anchor="middle" fill="#1a1a1a" stroke="#1a1a1a" stroke-width="0.3">900</text>
<text x="986.6" y="742.2" font-size="24.5" text-anchor="middle" fill="#1a1a1a" stroke="#1a1a1a" stroke-width="0.3">1150</text>
<text x="1096.5" y="742.2" font-size="24.5" text-anchor="middle" fill="#1a1a1a" stroke="#1a1a1a" stroke-width="0.3">1400</text>
<text x="876.6" y="772.7" font-size="25.5" text-anchor="middle" fill="#1a1a1a" stroke="#1a1a1a" stroke-width="0.3">Wavelength (nm)</text>
<text transform="translate(625.8,561.1) rotate(-90)" font-size="25.5" text-anchor="middle" fill="#1a1a1a" stroke="#1a1a1a" stroke-width="0.3">Extinction (a.u.)</text>
<path d="M105.1,1050.9 C109.4,1051.5 122.0,1053.4 130.5,1054.6 C139.0,1055.8 148.6,1058.5 155.9,1058.2 C163.1,1057.9 167.4,1054.0 174.0,1052.8 C180.6,1051.5 189.7,1050.9 195.8,1050.9 C201.8,1050.9 205.4,1054.6 210.3,1052.8 C215.1,1050.9 219.9,1043.1 224.8,1040.1 C229.6,1037.0 234.4,1036.7 239.3,1034.6 C244.1,1032.5 248.9,1028.0 253.8,1027.4 C258.6,1026.8 264.6,1031.6 268.3,1031.0 C271.9,1030.4 272.5,1029.2 275.5,1023.8 C278.5,1018.3 283.1,1003.2 286.4,998.4 C289.7,993.5 292.4,993.5 295.4,994.8 C298.5,996.0 301.2,1000.8 304.5,1005.6 C307.8,1010.5 310.5,1018.3 315.4,1023.8 C320.2,1029.2 327.5,1033.7 333.5,1038.3 C339.5,1042.8 344.4,1047.9 351.6,1050.9 C358.9,1054.0 369.8,1056.4 377.0,1056.4 C384.3,1056.4 389.7,1050.6 395.1,1050.9 C400.6,1051.2 403.0,1056.1 409.6,1058.2 C416.3,1060.3 424.7,1062.6 435.0,1063.6 C445.3,1064.7 453.4,1064.5 471.3,1064.4 C489.1,1064.2 530.2,1063.1 541.9,1062.9" fill="none" stroke="#111111" stroke-width="2.8" stroke-linejoin="round"/>
<path d="M105.1,1047.3 C109.4,1047.9 122.0,1049.7 130.5,1050.9 C139.0,1052.1 147.4,1055.2 155.9,1054.6 C164.3,1054.0 172.2,1048.8 181.3,1047.3 C190.3,1045.8 201.8,1047.0 210.3,1045.5 C218.7,1044.0 225.4,1041.9 232.0,1038.3 C238.6,1034.6 245.3,1025.6 250.1,1023.8 C255.0,1021.9 257.4,1026.2 261.0,1027.4 C264.6,1028.6 268.3,1033.4 271.9,1031.0 C275.5,1028.6 278.5,1020.7 282.8,1012.9 C287.0,1005.0 292.4,990.8 297.3,983.9 C302.1,976.9 306.9,971.2 311.8,971.2 C316.6,971.2 321.4,978.1 326.3,983.9 C331.1,989.6 335.9,998.4 340.8,1005.6 C345.6,1012.9 349.8,1021.6 355.3,1027.4 C360.7,1033.1 367.3,1037.5 373.4,1040.1 C379.4,1042.6 386.1,1041.4 391.5,1042.6 C396.9,1043.8 398.8,1044.4 406.0,1047.3 C413.3,1050.2 424.1,1057.4 435.0,1060.0 C445.9,1062.6 453.4,1062.6 471.3,1062.9 C489.1,1063.2 530.2,1062.0 541.9,1061.8" fill="none" stroke="#e8262a" stroke-width="2.8" stroke-linejoin="round"/>
<path d="M105.1,1041.9 C113.6,1043.4 140.8,1051.5 155.9,1050.9 C171.0,1050.3 186.7,1039.8 195.8,1038.3 C204.8,1036.7 205.4,1040.7 210.3,1041.9 C215.1,1043.1 219.9,1047.3 224.8,1045.5 C229.6,1043.7 234.4,1038.3 239.3,1031.0 C244.1,1023.8 250.1,1008.0 253.8,1002.0 C257.4,996.0 258.0,992.9 261.0,994.8 C264.0,996.6 267.6,1011.1 271.9,1012.9 C276.1,1014.7 280.9,1011.1 286.4,1005.6 C291.8,1000.2 299.1,989.0 304.5,980.3 C309.9,971.5 315.4,957.9 319.0,953.1 C322.6,948.2 322.6,949.1 326.3,951.3 C329.9,953.4 335.9,959.7 340.8,965.8 C345.6,971.8 349.8,979.0 355.3,987.5 C360.7,996.0 367.3,1010.5 373.4,1016.5 C379.4,1022.5 386.7,1021.3 391.5,1023.8 C396.3,1026.2 397.5,1026.8 402.4,1031.0 C407.2,1035.2 412.6,1044.9 420.5,1049.1 C428.4,1053.4 438.0,1054.6 449.5,1056.4 C461.0,1058.2 474.0,1059.4 489.4,1060.0 C504.8,1060.6 533.2,1060.0 541.9,1060.0" fill="none" stroke="#1c1cf0" stroke-width="2.8" stroke-linejoin="round"/>
<path d="M105.1,1036.4 C113.6,1038.6 141.4,1050.6 155.9,1049.1 C170.4,1047.6 183.1,1030.4 192.1,1027.4 C201.2,1024.4 204.8,1029.2 210.3,1031.0 C215.7,1032.8 219.9,1037.6 224.8,1038.3 C229.6,1038.9 234.4,1038.3 239.3,1034.6 C244.1,1031.0 250.4,1023.4 253.8,1016.5 C257.1,1009.6 255.6,996.9 259.2,992.9 C262.8,989.0 270.4,991.4 275.5,992.9 C280.6,994.4 285.2,1003.5 290.0,1002.0 C294.8,1000.5 299.1,992.3 304.5,983.9 C309.9,975.4 317.2,959.7 322.6,951.3 C328.1,942.8 332.9,938.0 337.1,933.1 C341.4,928.3 344.4,920.4 348.0,922.3 C351.6,924.1 354.0,935.5 358.9,944.0 C363.7,952.5 371.6,966.4 377.0,973.0 C382.4,979.6 386.7,979.0 391.5,983.9 C396.3,988.7 400.0,994.1 406.0,1002.0 C412.0,1009.9 419.9,1023.1 427.8,1031.0 C435.6,1038.9 442.9,1044.9 453.1,1049.1 C463.4,1053.4 474.6,1054.9 489.4,1056.4 C504.2,1057.9 533.2,1057.9 541.9,1058.2" fill="none" stroke="#108a8a" stroke-width="2.8" stroke-linejoin="round"/>
<path d="M105.1,1027.4 C113.6,1029.5 141.4,1042.0 155.9,1040.1 C170.4,1038.1 183.1,1018.8 192.1,1015.8 C201.2,1012.8 204.8,1019.4 210.3,1021.9 C215.7,1024.5 218.7,1028.9 224.8,1031.0 C230.8,1033.1 240.5,1036.4 246.5,1034.6 C252.5,1032.8 256.2,1030.7 261.0,1020.1 C265.8,1009.6 271.3,979.8 275.5,971.2 C279.7,962.6 282.1,967.4 286.4,968.7 C290.6,969.9 295.4,978.6 300.9,978.4 C306.3,978.3 313.0,975.1 319.0,967.6 C325.0,960.0 331.7,943.1 337.1,933.1 C342.6,923.2 347.4,915.0 351.6,907.8 C355.9,900.5 358.3,891.4 362.5,889.6 C366.7,887.8 371.6,892.6 377.0,896.9 C382.4,901.1 389.7,907.8 395.1,915.0 C400.6,922.3 404.2,929.5 409.6,940.4 C415.1,951.3 421.1,967.6 427.8,980.3 C434.4,992.9 442.3,1007.4 449.5,1016.5 C456.8,1025.6 461.6,1029.8 471.3,1034.6 C480.9,1039.5 495.7,1042.8 507.5,1045.5 C519.3,1048.2 536.2,1050.0 541.9,1050.9" fill="none" stroke="#f020f0" stroke-width="2.8" stroke-linejoin="round"/>
<path d="M105.1,1020.9 C113.6,1023.8 140.8,1040.9 155.9,1038.3 C171.0,1035.6 185.5,1009.7 195.8,1004.9 C206.0,1000.1 211.5,1006.7 217.5,1009.3 C223.5,1011.8 227.2,1015.3 232.0,1020.1 C236.8,1025.0 241.7,1038.3 246.5,1038.3 C251.3,1038.3 256.2,1029.2 261.0,1020.1 C265.8,1011.1 269.8,996.7 275.5,983.9 C281.2,971.1 290.0,948.1 295.4,943.3 C300.9,938.4 304.2,952.3 308.1,954.9 C312.1,957.4 315.4,960.3 319.0,958.5 C322.6,956.7 325.6,950.0 329.9,944.0 C334.1,938.0 339.5,930.1 344.4,922.3 C349.2,914.4 354.0,906.2 358.9,896.9 C363.7,887.5 368.2,873.0 373.4,866.1 C378.5,859.1 384.9,855.5 389.7,855.2 C394.5,854.9 397.8,857.3 402.4,864.3 C406.9,871.2 411.4,884.2 416.9,896.9 C422.3,909.6 428.4,926.5 435.0,940.4 C441.6,954.3 448.9,967.6 456.8,980.3 C464.6,992.9 473.7,1008.0 482.1,1016.5 C490.6,1025.0 497.5,1026.5 507.5,1031.0 C517.5,1035.5 536.2,1041.6 541.9,1043.7" fill="none" stroke="#8a8a16" stroke-width="2.8" stroke-linejoin="round"/>
<rect x="105.1" y="788.9" width="436.8" height="316.5" fill="none" stroke="#222" stroke-width="2"/>
<line x1="105.1" y1="1105.3" x2="105.1" y2="1097.3" stroke="#222" stroke-width="2"/>
<line x1="159.7" y1="1105.3" x2="159.7" y2="1100.3" stroke="#222" stroke-width="2"/>
<line x1="214.3" y1="1105.3" x2="214.3" y2="1097.3" stroke="#222" stroke-width="2"/>
<line x1="268.9" y1="1105.3" x2="268.9" y2="1100.3" stroke="#222" stroke-width="2"/>
<line x1="323.5" y1="1105.3" x2="323.5" y2="1097.3" stroke="#222" stroke-width="2"/>
<line x1="378.1" y1="1105.3" x2="378.1" y2="1100.3" stroke="#222" stroke-width="2"/>
<line x1="432.7" y1="1105.3" x2="432.7" y2="1097.3" stroke="#222" stroke-width="2"/>
<line x1="487.3" y1="1105.3" x2="487.3" y2="1100.3" stroke="#222" stroke-width="2"/>
<line x1="541.9" y1="1105.3" x2="541.9" y2="1097.3" stroke="#222" stroke-width="2"/>
<text x="105.1" y="1133.8" font-size="24.5" text-anchor="middle" fill="#1a1a1a" stroke="#1a1a1a" stroke-width="0.3">400</text>
<text x="214.3" y="1133.8" font-size="24.5" text-anchor="middle" fill="#1a1a1a" stroke="#1a1a1a" stroke-width="0.3">650</text>
<text x="323.5" y="1133.8" font-size="24.5" text-anchor="middle" fill="#1a1a1a" stroke="#1a1a1a" stroke-width="0.3">900</text>
<text x="432.7" y="1133.8" font-size="24.5" text-anchor="middle" fill="#1a1a1a" stroke="#1a1a1a" stroke-width="0.3">1150</text>
<text x="541.9" y="1133.8" font-size="24.5" text-anchor="middle" fill="#1a1a1a" stroke="#1a1a1a" stroke-width="0.3">1400</text>
<text x="323.5" y="1164.3" font-size="25.5" text-anchor="middle" fill="#1a1a1a" stroke="#1a1a1a" stroke-width="0.3">Wavelength (nm)</text>
<text transform="translate(74.1,955.1) rotate(-90)" font-size="25.5" text-anchor="middle" fill="#1a1a1a" stroke="#1a1a1a" stroke-width="0.3">Extinction (a.u.)</text>
<path d="M657.9,1060.0 C666.3,1060.9 695.9,1065.4 708.6,1065.4 C721.3,1065.4 723.7,1060.3 734.0,1060.0 C744.3,1059.7 760.6,1064.2 770.3,1063.6 C779.9,1063.0 786.6,1059.4 792.0,1056.4 C797.4,1053.4 799.9,1050.0 802.9,1045.5 C805.9,1041.0 807.1,1032.2 810.1,1029.2 C813.1,1026.2 818.0,1028.3 821.0,1027.4 C824.0,1026.5 825.2,1028.0 828.3,1023.8 C831.3,1019.5 835.5,1007.1 839.1,1002.0 C842.8,996.9 845.8,992.9 850.0,992.9 C854.2,992.9 860.3,999.9 864.5,1002.0 C868.7,1004.1 871.1,1002.6 875.4,1005.6 C879.6,1008.6 885.6,1014.7 889.9,1020.1 C894.1,1025.6 895.9,1032.8 900.8,1038.3 C905.6,1043.7 912.2,1048.8 918.9,1052.8 C925.5,1056.7 931.0,1059.1 940.6,1061.8 C950.3,1064.5 961.8,1067.3 976.9,1069.1 C992.0,1070.9 1010.8,1071.9 1031.3,1072.7 C1051.7,1073.5 1088.0,1073.6 1099.4,1073.8" fill="none" stroke="#111111" stroke-width="2.8" stroke-linejoin="round"/>
<path d="M657.9,1058.2 C666.3,1059.2 695.9,1064.7 708.6,1064.4 C721.3,1064.1 724.9,1057.1 734.0,1056.4 C743.1,1055.7 754.5,1060.0 763.0,1060.0 C771.5,1060.0 777.5,1057.6 784.8,1056.4 C792.0,1055.2 800.5,1054.6 806.5,1052.8 C812.5,1050.9 816.2,1052.1 821.0,1045.5 C825.8,1038.9 830.7,1023.1 835.5,1012.9 C840.3,1002.6 844.6,991.1 850.0,983.9 C855.4,976.6 862.7,971.5 868.1,969.4 C873.6,967.3 877.2,968.2 882.6,971.2 C888.1,974.2 895.3,980.6 900.8,987.5 C906.2,994.4 909.8,1005.0 915.3,1012.9 C920.7,1020.7 926.1,1028.0 933.4,1034.6 C940.6,1041.3 948.5,1048.0 958.8,1052.8 C969.0,1057.5 982.9,1060.4 995.0,1062.9 C1007.1,1065.4 1013.9,1066.6 1031.3,1068.0 C1048.7,1069.3 1088.0,1070.4 1099.4,1070.9" fill="none" stroke="#e8262a" stroke-width="2.8" stroke-linejoin="round"/>
<path d="M657.9,1055.7 C666.3,1056.7 694.1,1062.4 708.6,1061.8 C723.1,1061.2 734.6,1052.3 744.9,1052.0 C755.1,1051.7 763.0,1059.3 770.3,1060.0 C777.5,1060.7 782.3,1057.6 788.4,1056.4 C794.4,1055.2 801.1,1054.6 806.5,1052.8 C811.9,1050.9 815.0,1052.1 821.0,1045.5 C827.0,1038.9 836.1,1025.0 842.8,1012.9 C849.4,1000.8 854.8,983.9 860.9,973.0 C866.9,962.1 873.6,952.6 879.0,947.6 C884.4,942.7 888.7,942.7 893.5,943.3 C898.3,943.9 903.2,946.3 908.0,951.3 C912.8,956.2 917.1,964.5 922.5,973.0 C927.9,981.5 934.0,992.3 940.6,1002.0 C947.3,1011.7 954.5,1023.1 962.4,1031.0 C970.2,1038.9 977.5,1043.8 987.8,1049.1 C998.0,1054.4 1005.4,1059.6 1024.0,1062.9 C1042.6,1066.2 1086.8,1068.0 1099.4,1069.1" fill="none" stroke="#1c1cf0" stroke-width="2.8" stroke-linejoin="round"/>
<path d="M657.9,1050.9 C666.3,1052.1 693.2,1059.2 708.6,1058.2 C724.0,1057.2 738.8,1045.1 750.3,1044.8 C761.8,1044.5 769.3,1054.4 777.5,1056.4 C785.7,1058.3 792.0,1058.2 799.3,1056.4 C806.5,1054.6 813.1,1051.5 821.0,1045.5 C828.9,1039.5 838.5,1028.6 846.4,1020.1 C854.2,1011.7 861.5,1005.6 868.1,994.8 C874.8,983.9 880.2,968.8 886.3,954.9 C892.3,941.0 900.5,919.7 904.4,911.4 C908.3,903.0 906.8,903.6 909.8,904.9 C912.8,906.1 917.4,911.5 922.5,918.6 C927.6,925.8 934.0,936.8 940.6,947.6 C947.3,958.5 954.5,972.4 962.4,983.9 C970.2,995.4 978.7,1007.1 987.8,1016.5 C996.8,1025.9 1005.9,1033.4 1016.8,1040.1 C1027.6,1046.7 1039.2,1052.6 1053.0,1056.4 C1066.8,1060.2 1091.7,1061.8 1099.4,1062.9" fill="none" stroke="#108a8a" stroke-width="2.8" stroke-linejoin="round"/>
<path d="M657.9,1047.3 C666.3,1048.8 692.3,1057.9 708.6,1056.4 C724.9,1054.9 744.3,1038.9 755.8,1038.3 C767.2,1037.6 770.3,1049.7 777.5,1052.8 C784.8,1055.8 792.0,1057.3 799.3,1056.4 C806.5,1055.5 812.5,1052.8 821.0,1047.3 C829.5,1041.9 842.1,1031.3 850.0,1023.8 C857.9,1016.2 862.1,1014.1 868.1,1002.0 C874.2,989.9 879.6,968.8 886.3,951.3 C892.9,933.7 901.4,909.6 908.0,896.9 C914.6,884.2 920.7,876.9 926.1,875.1 C931.6,873.3 934.6,880.0 940.6,886.0 C946.7,892.0 955.1,901.1 962.4,911.4 C969.6,921.6 976.3,934.9 984.1,947.6 C992.0,960.3 1000.4,975.4 1009.5,987.5 C1018.6,999.6 1028.8,1011.7 1038.5,1020.1 C1048.2,1028.6 1057.4,1032.9 1067.5,1038.3 C1077.7,1043.6 1094.1,1049.7 1099.4,1052.0" fill="none" stroke="#f020f0" stroke-width="2.8" stroke-linejoin="round"/>
<path d="M657.9,1041.9 C666.3,1043.7 694.1,1054.0 708.6,1052.8 C723.1,1051.5 734.6,1038.7 744.9,1034.6 C755.1,1030.5 764.2,1027.5 770.3,1028.1 C776.3,1028.7 777.5,1034.4 781.1,1038.3 C784.8,1042.1 787.8,1048.5 792.0,1050.9 C796.2,1053.4 801.7,1053.4 806.5,1052.8 C811.3,1052.1 813.8,1052.1 821.0,1047.3 C828.3,1042.5 842.1,1030.7 850.0,1023.8 C857.9,1016.8 862.1,1014.1 868.1,1005.6 C874.2,997.2 880.2,986.3 886.3,973.0 C892.3,959.7 898.3,941.0 904.4,925.9 C910.4,910.8 915.7,896.2 922.5,882.4 C929.3,868.6 939.3,848.7 945.3,843.2 C951.4,837.8 952.9,844.4 958.8,849.8 C964.6,855.1 972.6,863.0 980.5,875.1 C988.4,887.2 997.4,907.1 1005.9,922.3 C1014.3,937.4 1021.0,951.3 1031.3,965.8 C1041.5,980.3 1056.1,998.1 1067.5,1009.3 C1078.9,1020.4 1094.1,1028.9 1099.4,1032.8" fill="none" stroke="#8a8a16" stroke-width="2.8" stroke-linejoin="round"/>
<rect x="657.9" y="786.3" width="441.5" height="320.1" fill="none" stroke="#222" stroke-width="2"/>
<line x1="657.9" y1="1106.4" x2="657.9" y2="1098.4" stroke="#222" stroke-width="2"/>
<line x1="713.1" y1="1106.4" x2="713.1" y2="1101.4" stroke="#222" stroke-width="2"/>
<line x1="768.3" y1="1106.4" x2="768.3" y2="1098.4" stroke="#222" stroke-width="2"/>
<line x1="823.4" y1="1106.4" x2="823.4" y2="1101.4" stroke="#222" stroke-width="2"/>
<line x1="878.6" y1="1106.4" x2="878.6" y2="1098.4" stroke="#222" stroke-width="2"/>
<line x1="933.8" y1="1106.4" x2="933.8" y2="1101.4" stroke="#222" stroke-width="2"/>
<line x1="989.0" y1="1106.4" x2="989.0" y2="1098.4" stroke="#222" stroke-width="2"/>
<line x1="1044.2" y1="1106.4" x2="1044.2" y2="1101.4" stroke="#222" stroke-width="2"/>
<line x1="1099.4" y1="1106.4" x2="1099.4" y2="1098.4" stroke="#222" stroke-width="2"/>
<text x="657.9" y="1134.9" font-size="24.5" text-anchor="middle" fill="#1a1a1a" stroke="#1a1a1a" stroke-width="0.3">400</text>
<text x="768.3" y="1134.9" font-size="24.5" text-anchor="middle" fill="#1a1a1a" stroke="#1a1a1a" stroke-width="0.3">650</text>
<text x="878.6" y="1134.9" font-size="24.5" text-anchor="middle" fill="#1a1a1a" stroke="#1a1a1a" stroke-width="0.3">900</text>
<text x="989.0" y="1134.9" font-size="24.5" text-anchor="middle" fill="#1a1a1a" stroke="#1a1a1a" stroke-width="0.3">1150</text>
<text x="1099.4" y="1134.9" font-size="24.5" text-anchor="middle" fill="#1a1a1a" stroke="#1a1a1a" stroke-width="0.3">1400</text>
<text x="878.6" y="1165.4" font-size="25.5" text-anchor="middle" fill="#1a1a1a" stroke="#1a1a1a" stroke-width="0.3">Wavelength (nm)</text>
<text transform="translate(626.9,954.4) rotate(-90)" font-size="25.5" text-anchor="middle" fill="#1a1a1a" stroke="#1a1a1a" stroke-width="0.3">Extinction (a.u.)</text>
<line x1="333.5" y1="415.3" x2="391.5" y2="415.3" stroke="#111111" stroke-width="3"/>
<text x="398.5" y="424.3" font-size="25.5" fill="#1a1a1a" stroke="#1a1a1a" stroke-width="0.45" xml:space="preserve">a =  70 nm</text>
<line x1="333.5" y1="446.9" x2="391.5" y2="446.9" stroke="#e8262a" stroke-width="3"/>
<text x="398.5" y="455.9" font-size="25.5" fill="#1a1a1a" stroke="#1a1a1a" stroke-width="0.45" xml:space="preserve">a =  80 nm</text>
<line x1="333.5" y1="478.3" x2="391.5" y2="478.3" stroke="#1c1cf0" stroke-width="3"/>
<text x="398.5" y="487.3" font-size="25.5" fill="#1a1a1a" stroke="#1a1a1a" stroke-width="0.45" xml:space="preserve">a =  90 nm</text>
<line x1="333.5" y1="510.4" x2="391.5" y2="510.4" stroke="#108a8a" stroke-width="3"/>
<text x="398.5" y="519.4" font-size="25.5" fill="#1a1a1a" stroke="#1a1a1a" stroke-width="0.45" xml:space="preserve">a = 100 nm</text>
<line x1="333.5" y1="542.2" x2="391.5" y2="542.2" stroke="#f020f0" stroke-width="3"/>
<text x="398.5" y="551.2" font-size="25.5" fill="#1a1a1a" stroke="#1a1a1a" stroke-width="0.45" xml:space="preserve">a = 120 nm</text>
<line x1="333.5" y1="573.7" x2="391.5" y2="573.7" stroke="#8a8a16" stroke-width="3"/>
<text x="398.5" y="582.7" font-size="25.5" fill="#1a1a1a" stroke="#1a1a1a" stroke-width="0.45" xml:space="preserve">a = 140 nm</text>
<polygon points="174,526 143,577 203,577" fill="url(#goldT)"/>
<line x1="139" y1="572" x2="166" y2="518" stroke="#222" stroke-width="1.6"/>
<path d="M166,519 l-1.5,9 l-5,-3z M139,571 l1.5,-9 l5,3z" fill="#222"/>
<line x1="162" y1="514" x2="170" y2="518" stroke="#222" stroke-width="1.6"/>
<line x1="134" y1="570" x2="142" y2="574" stroke="#222" stroke-width="1.6"/>
<text x="136.0" y="541.0" font-size="25.0" text-anchor="middle" fill="#222" >a</text>
<text x="63.6" y="448.8" font-size="38" fill="#111">1</text>
<text x="87.6" y="448.8" font-size="38" fill="#222" stroke="#fff" stroke-width="1.4">)</text>
<text x="601.7" y="448.6" font-size="38" fill="#111">2</text>
<text x="627.2" y="448.6" font-size="38" fill="#222" stroke="#fff" stroke-width="1.4">)</text>
<text x="63.1" y="834.0" font-size="38" fill="#111">3</text>
<text x="87.6" y="834.0" font-size="38" fill="#222" stroke="#fff" stroke-width="1.4">)</text>
<text x="602.6" y="834.0" font-size="38" fill="#111">4</text>
<text x="627.2" y="834.0" font-size="38" fill="#222" stroke="#fff" stroke-width="1.4">)</text>
<text x="745.0" y="457.0" font-size="23.5" text-anchor="start" fill="#222" stroke="#222" stroke-width="0.3">g = 0 nm</text>
<polygon points="699.6,525.0 699.6,584.0 750.3,553.0" fill="url(#goldL)"/>
<polygon points="761.0,553.0 810.0,524.0 812.0,581.0" fill="url(#goldR)"/>
<line x1="748.5" y1="524.0" x2="748.5" y2="586.0" stroke="#222" stroke-width="2" stroke-dasharray="6,4"/>
<line x1="762.0" y1="524.0" x2="762.0" y2="586.0" stroke="#222" stroke-width="2" stroke-dasharray="6,4"/>
<text x="750.0" y="509.0" font-size="25.0" text-anchor="middle" fill="#222" >g</text>
<text x="675.0" y="560.0" font-size="25.0" text-anchor="middle" fill="#222" >a</text>
<line x1="693.0" y1="528.0" x2="693.0" y2="580.0" stroke="#222" stroke-width="1.6"/>
<line x1="687.0" y1="524.0" x2="699.0" y2="524.0" stroke="#222" stroke-width="1.6"/>
<line x1="687.0" y1="584.0" x2="699.0" y2="584.0" stroke="#222" stroke-width="1.6"/>
<path d="M693.0,525.0 l-3.5,9 h7z M693.0,583.0 l-3.5,-9 h7z" fill="#222"/>
<text x="964.0" y="428.0" font-size="25.5" text-anchor="start" fill="#1a1a1a" stroke="#1a1a1a" stroke-width="0.45">a = 250 nm</text>
<text x="964.0" y="706.0" font-size="25.5" text-anchor="start" fill="#1a1a1a" stroke="#1a1a1a" stroke-width="0.45">a = 150 nm</text>
<line x1="1027.6" y1="678" x2="1027.6" y2="446" stroke="#111" stroke-width="2"/><path d="M1027.6,440 l-4,12 h8z" fill="#111"/>
<text x="188.5" y="847.0" font-size="23.5" text-anchor="start" fill="#222" stroke="#222" stroke-width="0.3">g = 20 nm</text>
<polygon points="141.0,917.0 143.0,976.0 192.0,945.0" fill="url(#goldL)"/>
<polygon points="203.0,945.0 252.0,914.0 255.0,973.0" fill="url(#goldR)"/>
<line x1="191.4" y1="915.0" x2="191.4" y2="978.0" stroke="#222" stroke-width="2" stroke-dasharray="6,4"/>
<line x1="204.0" y1="915.0" x2="204.0" y2="978.0" stroke="#222" stroke-width="2" stroke-dasharray="6,4"/>
<text x="193.0" y="899.0" font-size="25.0" text-anchor="middle" fill="#222" >g</text>
<text x="116.0" y="950.0" font-size="25.0" text-anchor="middle" fill="#222" >a</text>
<line x1="135.0" y1="919.0" x2="135.0" y2="973.0" stroke="#222" stroke-width="1.6"/>
<line x1="129.0" y1="915.0" x2="141.0" y2="915.0" stroke="#222" stroke-width="1.6"/>
<line x1="129.0" y1="977.0" x2="141.0" y2="977.0" stroke="#222" stroke-width="1.6"/>
<path d="M135.0,916.0 l-3.5,9 h7z M135.0,976.0 l-3.5,-9 h7z" fill="#222"/>
<text x="411.5" y="892.0" font-size="25.5" text-anchor="start" fill="#1a1a1a" stroke="#1a1a1a" stroke-width="0.45">a = 250 nm</text>
<text x="410.0" y="1094.0" font-size="25.5" text-anchor="start" fill="#1a1a1a" stroke="#1a1a1a" stroke-width="0.45">a = 150 nm</text>
<line x1="476.7" y1="1067" x2="476.7" y2="916" stroke="#111" stroke-width="2"/><path d="M476.7,909.6 l-4,12 h8z" fill="#111"/>
<text x="745.0" y="856.0" font-size="23.5" text-anchor="start" fill="#222" stroke="#222" stroke-width="0.3">g = 40 nm</text>
<polygon points="699.6,914.0 699.6,975.0 748.5,943.0" fill="url(#goldL)"/>
<polygon points="761.0,943.0 810.0,912.5 812.7,970.5" fill="url(#goldR)"/>
<line x1="748.5" y1="913.0" x2="748.5" y2="976.6" stroke="#222" stroke-width="2" stroke-dasharray="6,4"/>
<line x1="761.0" y1="913.0" x2="761.0" y2="976.6" stroke="#222" stroke-width="2" stroke-dasharray="6,4"/>
<text x="751.0" y="898.0" font-size="25.0" text-anchor="middle" fill="#222" >g</text>
<text x="675.0" y="949.0" font-size="25.0" text-anchor="middle" fill="#222" >a</text>
<line x1="693.0" y1="918.0" x2="693.0" y2="971.0" stroke="#222" stroke-width="1.6"/>
<line x1="687.0" y1="914.0" x2="699.0" y2="914.0" stroke="#222" stroke-width="1.6"/>
<line x1="687.0" y1="975.0" x2="699.0" y2="975.0" stroke="#222" stroke-width="1.6"/>
<path d="M693.0,915.0 l-3.5,9 h7z M693.0,974.0 l-3.5,-9 h7z" fill="#222"/>
<text x="966.0" y="849.0" font-size="25.5" text-anchor="start" fill="#1a1a1a" stroke="#1a1a1a" stroke-width="0.45">a = 250 nm</text>
<text x="963.0" y="1097.0" font-size="25.5" text-anchor="start" fill="#1a1a1a" stroke="#1a1a1a" stroke-width="0.45">a = 150 nm</text>
<line x1="1028" y1="1074.5" x2="1028" y2="868" stroke="#111" stroke-width="2"/><path d="M1028,862.4 l-4,12 h8z" fill="#111"/>
<path d="M1235.3,153.1 L1237.5,152.5 L1240.6,149.4 L1243.8,154.7 L1246.9,156.2 L1250.0,148.4 L1253.1,146.9 L1256.2,144.4 L1259.4,142.2 L1262.5,140.6 L1265.6,134.4 L1268.8,131.2 L1271.9,128.1 L1275.0,125.0 L1278.1,120.3 L1281.2,118.1 L1284.4,114.1 L1287.5,109.4 L1290.6,106.2 L1293.8,102.5 L1296.9,99.4 L1300.0,95.3 L1301.6,92.2 L1303.8,96.9 L1306.2,100.0 L1309.4,104.7 L1312.5,109.4 L1315.6,103.1 L1318.8,97.5 L1321.9,96.9 L1325.0,105.6 L1328.1,107.8 L1331.2,112.5 L1334.4,116.2 L1337.5,118.8 L1339.1,123.4 L1342.2,131.2 L1346.9,140.6 L1351.6,153.1 L1356.2,165.6 L1360.9,179.7 L1365.6,193.8 L1370.3,209.4 L1375.0,225.0 L1379.7,239.1 L1384.4,253.1 L1390.6,268.8 L1396.9,281.2 L1404.7,292.2 L1412.5,300.0 L1420.3,305.6 L1428.1,307.8 L1437.5,309.4 L1446.9,310.0 L1456.2,309.4 L1465.6,308.1 L1475.0,305.6 L1484.4,301.6 L1493.8,296.9 L1503.1,291.2 L1512.5,282.8 L1520.3,273.4 L1525.0,265.6 L1528.1,260.9 L1531.2,267.2 L1535.9,262.5 L1540.6,259.4 L1545.3,262.5 L1550.0,259.4 L1554.7,262.5 L1559.4,268.8 L1565.6,273.4 L1571.9,277.5" fill="none" stroke="#d83a3a" stroke-width="1.5" stroke-linejoin="round"/>
<path d="M1235.3,264.1 L1240.6,265.6 L1246.9,266.2 L1253.1,265.6 L1259.4,264.1 L1265.6,259.4 L1271.9,253.1 L1279.7,246.9 L1287.5,240.6 L1295.3,235.9 L1303.1,231.2 L1312.5,226.6 L1321.9,220.3 L1331.2,212.5 L1337.5,204.7 L1343.8,193.8 L1350.0,184.4 L1356.2,176.6 L1362.5,164.1 L1368.8,159.4 L1375.0,153.1 L1381.2,146.9 L1387.5,140.6 L1393.8,132.8 L1398.4,121.9 L1401.6,109.4 L1406.2,96.9 L1410.9,89.1 L1415.6,84.4 L1418.8,82.8 L1421.9,84.4 L1425.0,85.9 L1428.1,90.6 L1431.2,93.8 L1435.9,104.7 L1440.6,115.6 L1445.3,120.3 L1450.0,131.2 L1454.7,140.6 L1459.4,148.4 L1464.1,159.4 L1468.8,175.0 L1473.4,192.2 L1478.1,215.6 L1481.2,225.0 L1484.4,240.6 L1487.5,256.2 L1490.6,262.5 L1493.8,275.0 L1498.4,284.4 L1503.1,290.6 L1506.2,300.0 L1512.5,301.6 L1518.8,304.7 L1525.0,306.2 L1528.1,301.6 L1534.4,301.6 L1537.5,296.9 L1543.8,303.1 L1550.0,301.6 L1556.2,298.4 L1559.4,295.3 L1565.6,300.6 L1571.9,303.8" fill="none" stroke="#3cb44a" stroke-width="1.5" stroke-linejoin="round"/>
<path d="M1235.3,215.6 L1243.8,225.0 L1250.0,232.8 L1257.8,240.6 L1265.6,251.6 L1271.9,259.4 L1278.1,267.2 L1284.4,270.9 L1290.6,271.2 L1296.9,269.4 L1300.0,268.1 L1306.2,271.2 L1312.5,275.0 L1318.8,278.1 L1325.0,281.2 L1331.2,284.4 L1337.5,286.9 L1343.8,289.1 L1350.0,290.6 L1356.2,289.1 L1362.5,287.5 L1368.8,286.9 L1375.0,285.0 L1381.2,282.8 L1387.5,282.2 L1396.9,281.2 L1406.2,279.7 L1415.6,276.6 L1421.9,271.9 L1428.1,265.6 L1434.4,256.2 L1440.6,246.9 L1446.9,235.9 L1453.1,225.0 L1459.4,215.6 L1465.6,212.5 L1471.9,210.9 L1478.1,207.8 L1484.4,200.0 L1490.6,192.2 L1496.9,179.7 L1503.1,162.5 L1507.8,146.9 L1512.5,134.4 L1517.2,125.0 L1521.9,115.6 L1526.6,106.2 L1531.2,103.1 L1534.4,98.4 L1537.5,92.2 L1540.6,100.0 L1543.8,101.6 L1548.4,96.9 L1553.1,90.6 L1556.2,81.9 L1559.4,81.2 L1562.5,89.1 L1567.2,87.5 L1571.9,92.2" fill="none" stroke="#3b3f9a" stroke-width="1.5" stroke-linejoin="round"/>
<rect x="1235.3" y="46.9" width="337.2" height="271.2" fill="none" stroke="#111" stroke-width="2.2"/>
<line x1="1235.3" y1="318.1" x2="1235.3" y2="309.1" stroke="#111" stroke-width="1.8"/>
<line x1="1264.6" y1="318.1" x2="1264.6" y2="313.1" stroke="#111" stroke-width="1.8"/>
<line x1="1294.0" y1="318.1" x2="1294.0" y2="309.1" stroke="#111" stroke-width="1.8"/>
<line x1="1323.3" y1="318.1" x2="1323.3" y2="313.1" stroke="#111" stroke-width="1.8"/>
<line x1="1352.7" y1="318.1" x2="1352.7" y2="309.1" stroke="#111" stroke-width="1.8"/>
<line x1="1382.0" y1="318.1" x2="1382.0" y2="313.1" stroke="#111" stroke-width="1.8"/>
<line x1="1411.4" y1="318.1" x2="1411.4" y2="309.1" stroke="#111" stroke-width="1.8"/>
<line x1="1440.7" y1="318.1" x2="1440.7" y2="313.1" stroke="#111" stroke-width="1.8"/>
<line x1="1470.1" y1="318.1" x2="1470.1" y2="309.1" stroke="#111" stroke-width="1.8"/>
<line x1="1499.4" y1="318.1" x2="1499.4" y2="313.1" stroke="#111" stroke-width="1.8"/>
<line x1="1528.8" y1="318.1" x2="1528.8" y2="309.1" stroke="#111" stroke-width="1.8"/>
<line x1="1558.1" y1="318.1" x2="1558.1" y2="313.1" stroke="#111" stroke-width="1.8"/>
<text x="1235.3" y="337.0" font-size="21.0" text-anchor="middle" fill="#1a1a1a" stroke="#1a1a1a" stroke-width="0.4">1.6</text>
<text x="1294.0" y="337.0" font-size="21.0" text-anchor="middle" fill="#1a1a1a" stroke="#1a1a1a" stroke-width="0.4">1.8</text>
<text x="1352.7" y="337.0" font-size="21.0" text-anchor="middle" fill="#1a1a1a" stroke="#1a1a1a" stroke-width="0.4">2.0</text>
<text x="1411.4" y="337.0" font-size="21.0" text-anchor="middle" fill="#1a1a1a" stroke="#1a1a1a" stroke-width="0.4">2.2</text>
<text x="1470.1" y="337.0" font-size="21.0" text-anchor="middle" fill="#1a1a1a" stroke="#1a1a1a" stroke-width="0.4">2.4</text>
<text x="1528.8" y="337.0" font-size="21.0" text-anchor="middle" fill="#1a1a1a" stroke="#1a1a1a" stroke-width="0.4">2.6</text>
<line x1="1235.3" y1="318.1" x2="1243.3" y2="318.1" stroke="#111" stroke-width="1.8"/>
<line x1="1235.3" y1="291.0" x2="1240.3" y2="291.0" stroke="#111" stroke-width="1.8"/>
<line x1="1235.3" y1="263.9" x2="1243.3" y2="263.9" stroke="#111" stroke-width="1.8"/>
<line x1="1235.3" y1="236.7" x2="1240.3" y2="236.7" stroke="#111" stroke-width="1.8"/>
<line x1="1235.3" y1="209.6" x2="1243.3" y2="209.6" stroke="#111" stroke-width="1.8"/>
<line x1="1235.3" y1="182.5" x2="1240.3" y2="182.5" stroke="#111" stroke-width="1.8"/>
<line x1="1235.3" y1="155.4" x2="1243.3" y2="155.4" stroke="#111" stroke-width="1.8"/>
<line x1="1235.3" y1="128.3" x2="1240.3" y2="128.3" stroke="#111" stroke-width="1.8"/>
<line x1="1235.3" y1="101.1" x2="1243.3" y2="101.1" stroke="#111" stroke-width="1.8"/>
<line x1="1235.3" y1="74.0" x2="1240.3" y2="74.0" stroke="#111" stroke-width="1.8"/>
<line x1="1235.3" y1="46.9" x2="1243.3" y2="46.9" stroke="#111" stroke-width="1.8"/>
<text x="1227.0" y="325.1" font-size="21.0" text-anchor="end" fill="#1a1a1a" stroke="#1a1a1a" stroke-width="0.4">0.00</text>
<text x="1227.0" y="270.9" font-size="21.0" text-anchor="end" fill="#1a1a1a" stroke="#1a1a1a" stroke-width="0.4">2.75</text>
<text x="1227.0" y="216.6" font-size="21.0" text-anchor="end" fill="#1a1a1a" stroke="#1a1a1a" stroke-width="0.4">5.50</text>
<text x="1227.0" y="162.4" font-size="21.0" text-anchor="end" fill="#1a1a1a" stroke="#1a1a1a" stroke-width="0.4">8.25</text>
<text x="1227.0" y="108.1" font-size="21.0" text-anchor="end" fill="#1a1a1a" stroke="#1a1a1a" stroke-width="0.4">11.00</text>
<text x="1227.0" y="53.9" font-size="21.0" text-anchor="end" fill="#1a1a1a" stroke="#1a1a1a" stroke-width="0.4">13.75</text>
<line x1="1493.4" y1="46.9" x2="1493.4" y2="52.9" stroke="#111" stroke-width="1.8"/>
<line x1="1427.3" y1="46.9" x2="1427.3" y2="55.9" stroke="#111" stroke-width="1.8"/>
<line x1="1372.2" y1="46.9" x2="1372.2" y2="52.9" stroke="#111" stroke-width="1.8"/>
<line x1="1325.5" y1="46.9" x2="1325.5" y2="55.9" stroke="#111" stroke-width="1.8"/>
<line x1="1285.5" y1="46.9" x2="1285.5" y2="52.9" stroke="#111" stroke-width="1.8"/>
<line x1="1250.9" y1="46.9" x2="1250.9" y2="55.9" stroke="#111" stroke-width="1.8"/>
<text x="1250.0" y="42.0" font-size="21.0" text-anchor="middle" fill="#1a1a1a" stroke="#1a1a1a" stroke-width="0.4">750</text>
<text x="1323.0" y="42.0" font-size="21.0" text-anchor="middle" fill="#1a1a1a" stroke="#1a1a1a" stroke-width="0.4">650</text>
<text x="1426.6" y="42.0" font-size="21.0" text-anchor="middle" fill="#1a1a1a" stroke="#1a1a1a" stroke-width="0.4">550</text>
<text x="1573.0" y="42.0" font-size="21.0" text-anchor="middle" fill="#1a1a1a" stroke="#1a1a1a" stroke-width="0.4">450</text>
<text x="1397.0" y="18.0" font-size="20.0" text-anchor="middle" fill="#1a1a1a" stroke="#1a1a1a" stroke-width="0.4">Wavelength (nm)</text>
<text x="1397.0" y="361.0" font-size="20.0" text-anchor="middle" fill="#1a1a1a" stroke="#1a1a1a" stroke-width="0.4">Energy (eV)</text>
<text transform="translate(1172,191) rotate(-90)" font-size="19" text-anchor="middle" fill="#1a1a1a" stroke="#1a1a1a" stroke-width="0.4">Responsivity (A W<tspan font-size="12" dy="-7">-1</tspan><tspan dy="7">)</tspan></text>
<g filter="url(#jetB)">
<rect x="662" y="34" width="355" height="320" fill="#1f1f1f"/>
<rect x="662" y="34" width="355" height="90" fill="url(#bAir)"/>
<ellipse cx="840" cy="108" rx="58" ry="60" fill="#4a4a4a" filter="url(#bb8)"/>
<rect x="662" y="162" width="355" height="38" fill="#333333"/>
<ellipse cx="730" cy="180" rx="22" ry="14" fill="#454545" filter="url(#bb8)"/>
<ellipse cx="950" cy="180" rx="22" ry="14" fill="#454545" filter="url(#bb8)"/>
<ellipse cx="839" cy="178" rx="30" ry="14" fill="#404040" filter="url(#bb8)"/>
<rect x="662" y="200" width="355" height="154" fill="#212121"/>
<ellipse cx="839" cy="215" rx="32" ry="22" fill="#303030" filter="url(#bb8)"/>
<rect x="662" y="123" width="139" height="39" fill="#0a0a0a"/>
<rect x="877" y="123" width="140" height="39" fill="#0a0a0a"/>
<path d="M814,118 L866,160 M866,118 L814,160" stroke="#5e5e5e" stroke-width="12" filter="url(#bb4)"/>
<ellipse cx="840" cy="140" rx="26" ry="20" fill="#545454" filter="url(#bb8)"/>
<ellipse cx="809.5" cy="128" rx="22" ry="28" fill="#666666" filter="url(#bb8)"/>
<path d="M795.5,110.0 807.5,104.0 819.5,110.0 823.5,124.0 817.5,142.0 811.5,160.0 807.5,168.0 801.5,166.0 797.5,158.0 801.5,150.0 793.5,120.0 Z" fill="#808080" filter="url(#bb4)"/>
<path d="M798.5,112.0 807.5,108.0 816.5,113.0 818.5,124.0 813.5,138.0 809.5,158.0 805.5,164.0 801.5,163.0 802.5,140.0 797.5,118.0 Z" fill="#999999" filter="url(#bb2)"/>
<path d="M799.5,114.0 807.5,111.0 814.5,116.0 814.5,126.0 809.5,136.0 804.5,140.0 802.5,130.0 798.5,118.0 Z" fill="#d1d1d1" filter="url(#bb1)"/>
<ellipse cx="806.5" cy="122" rx="4" ry="7" fill="#f7f7f7" filter="url(#bb1)"/>
<ellipse cx="804.5" cy="158" rx="2.5" ry="5" fill="#cccccc" filter="url(#bb1)"/>
<ellipse cx="803.5" cy="163" rx="3" ry="2.5" fill="#e6e6e6" filter="url(#bb1)"/>
<ellipse cx="869.5" cy="128" rx="22" ry="28" fill="#666666" filter="url(#bb8)"/>
<path d="M883.5,110.0 871.5,104.0 859.5,110.0 855.5,124.0 861.5,142.0 867.5,160.0 871.5,168.0 877.5,166.0 881.5,158.0 877.5,150.0 885.5,120.0 Z" fill="#808080" filter="url(#bb4)"/>
<path d="M880.5,112.0 871.5,108.0 862.5,113.0 860.5,124.0 865.5,138.0 869.5,158.0 873.5,164.0 877.5,163.0 876.5,140.0 881.5,118.0 Z" fill="#999999" filter="url(#bb2)"/>
<path d="M879.5,114.0 871.5,111.0 864.5,116.0 864.5,126.0 869.5,136.0 874.5,140.0 876.5,130.0 880.5,118.0 Z" fill="#d1d1d1" filter="url(#bb1)"/>
<ellipse cx="872.5" cy="122" rx="4" ry="7" fill="#f7f7f7" filter="url(#bb1)"/>
<ellipse cx="874.5" cy="158" rx="2.5" ry="5" fill="#cccccc" filter="url(#bb1)"/>
<ellipse cx="875.5" cy="163" rx="3" ry="2.5" fill="#e6e6e6" filter="url(#bb1)"/>
</g>
<path d="M662,122.5 H801.5 V162 M1017,122.5 H877.5 V162" fill="none" stroke="#c9cbe6" stroke-width="2.2"/>
<line x1="662" y1="162" x2="1017" y2="162" stroke="#c9cbe6" stroke-width="2"/>
<line x1="662" y1="200.5" x2="1017" y2="200.5" stroke="#c9cbe6" stroke-width="2.2"/>
<line x1="662" y1="34.5" x2="1017" y2="34.5" stroke="#2c2a7e" stroke-width="1" opacity="0.5"/>
<rect x="701" y="313" width="79" height="6" fill="#fff"/>
<rect x="1039.5" y="34" width="26" height="320" fill="url(#cbB)"/>
<text x="1067.0" y="363.0" font-size="23.0" text-anchor="start" fill="#222" >0</text>
<text x="1067.0" y="299.0" font-size="23.0" text-anchor="start" fill="#222" >4</text>
<text x="1067.0" y="235.0" font-size="23.0" text-anchor="start" fill="#222" >8</text>
<text x="1067.0" y="171.0" font-size="23.0" text-anchor="start" fill="#222" >12</text>
<text x="1067.0" y="107.0" font-size="23.0" text-anchor="start" fill="#222" >16</text>
<text x="1067.0" y="43.0" font-size="23.0" text-anchor="start" fill="#222" >20</text>
<text x="655" y="125.5" font-size="23" text-anchor="end" fill="#222" stroke="#222" stroke-width="0.35">Al<tspan font-size="15" dy="7">2</tspan><tspan dy="-7">O</tspan><tspan font-size="15" dy="7">3</tspan></text>
<text x="655.0" y="154.5" font-size="23.0" text-anchor="end" fill="#222" stroke="#222" stroke-width="0.35">Al</text>
<text x="655" y="184.7" font-size="23" text-anchor="end" fill="#222" stroke="#222" stroke-width="0.35">SiO<tspan font-size="15" dy="7">2</tspan></text>
<text x="655.0" y="279.0" font-size="23.0" text-anchor="end" fill="#222" stroke="#222" stroke-width="0.35">Si</text>
<g filter="url(#jetE1)">
<rect x="1254.0" y="381.6" width="279.0" height="278.1" fill="#262626"/>
<ellipse cx="1392.5" cy="523.6" rx="115.0" ry="147.0" fill="#454545" filter="url(#eb12)"/>
<ellipse cx="1392.5" cy="523.6" rx="95.0" ry="125.0" fill="#5c5c5c" filter="url(#eb6)"/>
<ellipse cx="1392.5" cy="523.6" rx="80.0" ry="101.0" fill="#7d7d7d" filter="url(#eb3)"/>
<ellipse cx="1271.0" cy="525.6" rx="13" ry="52" fill="#000000" filter="url(#eb10)"/>
<ellipse cx="1515.0" cy="525.6" rx="13" ry="52" fill="#000000" filter="url(#eb10)"/>
<circle cx="1392.5" cy="521.6" r="89.0" fill="#3d3d3d"/>
</g>
<g filter="url(#jetE2)">
<rect x="1254.0" y="673.8" width="279.0" height="123.7" fill="#808080"/>
<ellipse cx="1393" cy="672" rx="40" ry="14" fill="#707070" filter="url(#eb6)"/>
<ellipse cx="1393" cy="800" rx="40" ry="14" fill="#707070" filter="url(#eb6)"/>
<ellipse cx="1330.0" cy="736" rx="78" ry="60.0" fill="#9a9a9a" filter="url(#eb4)"/>
<ellipse cx="1322.0" cy="736" rx="58" ry="47.0" fill="#b8b8b8" filter="url(#eb3)"/>
<ellipse cx="1318.0" cy="736" rx="48" ry="43.0" fill="#d9d9d9" filter="url(#eb2)"/>
<ellipse cx="1316.0" cy="736" rx="36" ry="35.0" fill="#f7f7f7" filter="url(#eb2)"/>
<ellipse cx="1456.0" cy="736" rx="78" ry="60.0" fill="#9a9a9a" filter="url(#eb4)"/>
<ellipse cx="1464.0" cy="736" rx="58" ry="47.0" fill="#b8b8b8" filter="url(#eb3)"/>
<ellipse cx="1468.0" cy="736" rx="48" ry="43.0" fill="#d9d9d9" filter="url(#eb2)"/>
<ellipse cx="1470.0" cy="736" rx="36" ry="35.0" fill="#f7f7f7" filter="url(#eb2)"/>
<rect x="1284" y="704" width="222" height="64.4" rx="32" fill="url(#eRodIn)"/>
</g>
<g filter="url(#jetE3)">
<rect x="1254.0" y="812.0" width="279.0" height="272.5" fill="url(#eTriBg)"/>
<path d="M1270,1057 L1321,968 C1328,940 1334,880 1344,852 C1358,812 1427,812 1441,852 C1451,880 1457,940 1464,968 L1515,1057 Z" fill="#4f4f4f" stroke="#4f4f4f" stroke-width="128" stroke-linejoin="round" filter="url(#eb12)"/>
<path d="M1270,1057 L1321,968 C1328,940 1334,880 1344,852 C1358,812 1427,812 1441,852 C1451,880 1457,940 1464,968 L1515,1057 Z" fill="#5e5e5e" stroke="#5e5e5e" stroke-width="92" stroke-linejoin="round" filter="url(#eb10)"/>
<path d="M1270,1057 L1321,968 C1328,940 1334,880 1344,852 C1358,812 1427,812 1441,852 C1451,880 1457,940 1464,968 L1515,1057 Z" fill="#787878" stroke="#787878" stroke-width="60" stroke-linejoin="round" filter="url(#eb8)"/>
<path d="M1270,1057 L1321,968 C1328,940 1334,880 1344,852 C1358,812 1427,812 1441,852 C1451,880 1457,940 1464,968 L1515,1057 Z" fill="#949494" stroke="#949494" stroke-width="32" stroke-linejoin="round" filter="url(#eb6)"/>
<path d="M1270,1057 L1321,968 C1328,940 1334,880 1344,852 C1358,812 1427,812 1441,852 C1451,880 1457,940 1464,968 L1515,1057 Z" fill="#ababab" stroke="#ababab" stroke-width="12" stroke-linejoin="round" filter="url(#eb4)"/>
<path d="M1270,1057 L1321,968 C1328,940 1334,880 1344,852 C1358,812 1427,812 1441,852 C1451,880 1457,940 1464,968 L1515,1057 Z" fill="#cccccc" stroke="#cccccc" stroke-width="2" stroke-linejoin="round" filter="url(#eb3)"/>
<path d="M1328,958 C1334,905 1350,856 1363,836 C1379,814 1406,814 1422,836 C1435,856 1451,905 1457,958 Z" fill="#f7f7f7" filter="url(#eb3)"/>
<circle cx="1277" cy="1051" r="15" fill="#e0e0e0" filter="url(#eb4)"/>
<circle cx="1277" cy="1052" r="10" fill="#ffffff" filter="url(#eb2)"/>
<circle cx="1508" cy="1051" r="15" fill="#e0e0e0" filter="url(#eb4)"/>
<circle cx="1508" cy="1052" r="10" fill="#ffffff" filter="url(#eb2)"/>
<path d="M1300,1064 L1485,1064 L1500,1090 L1285,1090 Z" fill="#808080" filter="url(#eb6)"/>
<path d="M1330,1075 L1455,1075 L1465,1095 L1320,1095 Z" fill="#6b6b6b" filter="url(#eb6)"/>
<g clip-path="url(#eTriClip)"><rect x="1260" y="838" width="262" height="222" fill="url(#eTriIn)"/>
<circle cx="1392.5" cy="1060" r="118" fill="url(#eSpot)"/></g>
</g>
<rect x="1254.5" y="1097.5" width="278" height="16.3" fill="url(#cbE)"/>
<line x1="1300.8" y1="1097.5" x2="1300.8" y2="1121.0" stroke="#111" stroke-width="2"/>
<line x1="1347.1" y1="1097.5" x2="1347.1" y2="1113.8" stroke="#111" stroke-width="2"/>
<line x1="1393.4" y1="1097.5" x2="1393.4" y2="1121.0" stroke="#111" stroke-width="2"/>
<line x1="1439.8" y1="1097.5" x2="1439.8" y2="1113.8" stroke="#111" stroke-width="2"/>
<line x1="1486.1" y1="1097.5" x2="1486.1" y2="1121.0" stroke="#111" stroke-width="2"/>
<text x="1300.8" y="1149.0" font-size="29.0" text-anchor="middle" fill="#111" >0.5</text>
<text x="1393.4" y="1149.0" font-size="29.0" text-anchor="middle" fill="#111" >1.5</text>
<text x="1486.1" y="1149.0" font-size="29.0" text-anchor="middle" fill="#111" >2.5</text>
<rect x="66" y="1193.5" width="1483" height="1012.5" fill="#5b8dd3"/>
<g filter="url(#vir0)">
<rect x="72.5" y="1201.5" width="356.2" height="176.0" fill="#000000"/>
<ellipse cx="251.0" cy="1290" rx="30" ry="32" fill="#1f1f1f" filter="url(#fb8)"/>
<ellipse cx="251.0" cy="1290" rx="12" ry="20" fill="#6b6b6b" filter="url(#fb5)"/>
<ellipse cx="251.0" cy="1290" rx="7" ry="11" fill="#999999" filter="url(#fb2)"/>
</g>
<g filter="url(#vir1)">
<rect x="434.5" y="1201.5" width="365.5" height="176.0" fill="#000000"/>
<ellipse cx="615.0" cy="1290" rx="30" ry="32" fill="#1f1f1f" filter="url(#fb8)"/>
<ellipse cx="615.0" cy="1290" rx="12" ry="20" fill="#6b6b6b" filter="url(#fb5)"/>
<ellipse cx="615.0" cy="1290" rx="7" ry="11" fill="#999999" filter="url(#fb2)"/>
</g>
<g filter="url(#vir2)">
<rect x="806.0" y="1201.5" width="362.8" height="176.0" fill="#050505"/>
<rect x="860" y="1248" width="250" height="87" rx="14" fill="#1f1f1f" filter="url(#fb12)"/>
<rect x="870" y="1258" width="230" height="67" rx="10" fill="#383838" filter="url(#fb3)"/>
<rect x="972" y="1262" width="26" height="59" fill="#9e9e9e" filter="url(#fb3)"/>
<rect x="873.6" y="1260.8" width="101.2" height="61.7" rx="9" fill="#000000"/>
<rect x="995.7" y="1260.8" width="101.3" height="61.7" rx="9" fill="#000000"/>
</g>
<g filter="url(#vir3)">
<rect x="1174.5" y="1201.5" width="368.0" height="176.0" fill="#404040"/>
<rect x="1185" y="1212" width="350" height="155" fill="#4c4c4c" filter="url(#fb12)"/>
<ellipse cx="1356" cy="1230" rx="110" ry="30" fill="#333333" filter="url(#fb12)"/>
<ellipse cx="1356" cy="1350" rx="110" ry="30" fill="#333333" filter="url(#fb12)"/>
<ellipse cx="1245" cy="1256" rx="14" ry="8" fill="#808080" filter="url(#fb5)"/>
<ellipse cx="1346" cy="1256" rx="14" ry="8" fill="#808080" filter="url(#fb5)"/>
<ellipse cx="1245" cy="1319" rx="14" ry="8" fill="#808080" filter="url(#fb5)"/>
<ellipse cx="1346" cy="1319" rx="14" ry="8" fill="#808080" filter="url(#fb5)"/>
<ellipse cx="1366" cy="1256" rx="14" ry="8" fill="#808080" filter="url(#fb5)"/>
<ellipse cx="1468" cy="1256" rx="14" ry="8" fill="#808080" filter="url(#fb5)"/>
<ellipse cx="1366" cy="1319" rx="14" ry="8" fill="#808080" filter="url(#fb5)"/>
<ellipse cx="1468" cy="1319" rx="14" ry="8" fill="#808080" filter="url(#fb5)"/>
<ellipse cx="1226" cy="1288" rx="14" ry="26" fill="#1a1a1a" filter="url(#fb8)"/>
<ellipse cx="1356" cy="1288" rx="8" ry="30" fill="#1f1f1f" filter="url(#fb5)"/>
<ellipse cx="1486" cy="1288" rx="12" ry="26" fill="#242424" filter="url(#fb8)"/>
<rect x="1245" y="1256" width="101" height="63" rx="9" fill="#000000"/>
<rect x="1366" y="1256" width="102" height="63" rx="9" fill="#000000"/>
</g>
<path d="M152.9,1240.4 Q145.0,1236.0 145.0,1245.0 L145.0,1336.0 Q145.0,1345.0 152.8,1340.6 L234.7,1294.4 Q242.5,1290.0 234.6,1285.6 Z" fill="none" stroke="#ece6ff" stroke-width="2.4" stroke-dasharray="7,6" stroke-linejoin="round"/>
<path d="M349.6,1240.4 Q357.5,1236.0 357.5,1245.0 L357.5,1336.0 Q357.5,1345.0 349.7,1340.6 L267.8,1294.4 Q260.0,1290.0 267.9,1285.6 Z" fill="none" stroke="#ece6ff" stroke-width="2.4" stroke-dasharray="7,6" stroke-linejoin="round"/>
<path d="M241.0,1281 Q246.0,1290 241.0,1299" fill="none" stroke="#f4f0a0" stroke-width="2.6"/>
<path d="M261.5,1281 Q256.5,1290 261.5,1299" fill="none" stroke="#f4f0a0" stroke-width="2.6"/>
<path d="M516.9,1240.4 Q509.0,1236.0 509.0,1245.0 L509.0,1336.0 Q509.0,1345.0 516.8,1340.6 L598.7,1294.4 Q606.5,1290.0 598.6,1285.6 Z" fill="none" stroke="#ece6ff" stroke-width="2.4" stroke-dasharray="7,6" stroke-linejoin="round"/>
<path d="M713.6,1240.4 Q721.5,1236.0 721.5,1245.0 L721.5,1336.0 Q721.5,1345.0 713.7,1340.6 L631.8,1294.4 Q624.0,1290.0 631.9,1285.6 Z" fill="none" stroke="#ece6ff" stroke-width="2.4" stroke-dasharray="7,6" stroke-linejoin="round"/>
<path d="M605.0,1281 Q610.0,1290 605.0,1299" fill="none" stroke="#f4f0a0" stroke-width="2.6"/>
<path d="M625.5,1281 Q620.5,1290 625.5,1299" fill="none" stroke="#f4f0a0" stroke-width="2.6"/>
<rect x="873.6" y="1260.8" width="101.2" height="61.7" rx="9" fill="none" stroke="#ece6ff" stroke-width="2.4" stroke-dasharray="7,6" stroke-linejoin="round"/>
<rect x="995.7" y="1260.8" width="101.3" height="61.7" rx="9" fill="none" stroke="#ece6ff" stroke-width="2.4" stroke-dasharray="7,6" stroke-linejoin="round"/>
<rect x="1245" y="1256" width="101" height="63" rx="9" fill="none" stroke="#ece6ff" stroke-width="2.4" stroke-dasharray="7,6" stroke-linejoin="round"/>
<rect x="1366" y="1256" width="102" height="63" rx="9" fill="none" stroke="#ece6ff" stroke-width="2.4" stroke-dasharray="7,6" stroke-linejoin="round"/>
<rect x="366.1" y="1205.7" width="57.2" height="153.5" fill="url(#cbV)"/>
<text x="419.3" y="1232.7" font-size="21.0" text-anchor="end" fill="#f2f6d8" >220</text>
<text x="411.3" y="1354.2" font-size="21.0" text-anchor="end" fill="#e6e0ff" >0</text>
<rect x="731.0" y="1205.7" width="57.2" height="153.5" fill="url(#cbV)"/>
<text x="784.2" y="1232.7" font-size="21.0" text-anchor="end" fill="#f2f6d8" >220</text>
<text x="776.2" y="1354.2" font-size="21.0" text-anchor="end" fill="#e6e0ff" >0</text>
<rect x="1104.0" y="1211.0" width="57.0" height="149.5" fill="url(#cbV)"/>
<text x="1157.0" y="1238.0" font-size="21.0" text-anchor="end" fill="#f2f6d8" >100</text>
<text x="1149.0" y="1355.5" font-size="21.0" text-anchor="end" fill="#e6e0ff" >0</text>
<rect x="1476.0" y="1206.0" width="58.0" height="153.6" fill="url(#cbV)"/>
<text x="1530.0" y="1233.0" font-size="21.0" text-anchor="end" fill="#f2f6d8" >10</text>
<text x="1522.0" y="1354.6" font-size="21.0" text-anchor="end" fill="#e6e0ff" >0</text>
<text x="82.0" y="1231" font-family="'Liberation Serif', serif" font-weight="bold" font-size="20" fill="#fff" textLength="9.5" lengthAdjust="spacingAndGlyphs">I</text>
<text x="444.0" y="1231" font-family="'Liberation Serif', serif" font-weight="bold" font-size="20" fill="#fff" textLength="17.0" lengthAdjust="spacingAndGlyphs">II</text>
<text x="810.5" y="1231" font-family="'Liberation Serif', serif" font-weight="bold" font-size="20" fill="#fff" textLength="17.5" lengthAdjust="spacingAndGlyphs">III</text>
<text x="1182.4" y="1231" font-family="'Liberation Serif', serif" font-weight="bold" font-size="20" fill="#fff" textLength="18.5" lengthAdjust="spacingAndGlyphs">IV</text>
<text x="111.0" y="1357.0" font-size="20.0" text-anchor="middle" fill="#fff" font-weight="bold">E</text>
<line x1="86.0" y1="1365.5" x2="131.0" y2="1365.5" stroke="#fff" stroke-width="1.6"/>
<path d="M81.0,1365.5 l8,-4 v8z M136.0,1365.5 l-8,-4 v8z" fill="#fff"/>
<text x="475.0" y="1357.0" font-size="20.0" text-anchor="middle" fill="#fff" font-weight="bold">E</text>
<line x1="450.0" y1="1365.5" x2="495.0" y2="1365.5" stroke="#fff" stroke-width="1.6"/>
<path d="M445.0,1365.5 l8,-4 v8z M500.0,1365.5 l-8,-4 v8z" fill="#fff"/>
<text x="842.0" y="1357.0" font-size="20.0" text-anchor="middle" fill="#fff" font-weight="bold">E</text>
<line x1="817.0" y1="1365.5" x2="862.0" y2="1365.5" stroke="#fff" stroke-width="1.6"/>
<path d="M812.0,1365.5 l8,-4 v8z M867.0,1365.5 l-8,-4 v8z" fill="#fff"/>
<text x="1212.0" y="1354.0" font-size="20.0" text-anchor="middle" fill="#fff" font-weight="bold">E</text>
<line x1="1188.6" y1="1320" x2="1188.6" y2="1365" stroke="#fff" stroke-width="1.6"/>
<path d="M1188.6,1314 l-4,9 h8z M1188.6,1371 l-4,-9 h8z" fill="#fff"/>
<rect x="72.5" y="1384.5" width="356.2" height="185.8" fill="#2c2c2c"/>
<rect x="434.5" y="1384.5" width="365.5" height="185.8" fill="#2c2c2c"/>
<rect x="806.0" y="1384.5" width="362.8" height="185.8" fill="#2c2c2c"/>
<rect x="1174.5" y="1384.5" width="368.0" height="185.8" fill="#2c2c2c"/>
<rect x="72.5" y="1577.5" width="356.2" height="186.2" fill="#2c2c2c"/>
<rect x="434.5" y="1577.5" width="365.5" height="186.2" fill="#2c2c2c"/>
<rect x="806.0" y="1577.5" width="362.8" height="186.2" fill="#2c2c2c"/>
<rect x="1174.5" y="1577.5" width="368.0" height="186.2" fill="#2c2c2c"/>
<rect x="72.5" y="1771.2" width="356.2" height="190.0" fill="#2c2c2c"/>
<rect x="434.5" y="1771.2" width="365.5" height="190.0" fill="#2c2c2c"/>
<rect x="806.0" y="1771.2" width="362.8" height="190.0" fill="#2c2c2c"/>
<rect x="1174.5" y="1771.2" width="368.0" height="190.0" fill="#2c2c2c"/>
<g filter="url(#semtex)">
<rect x="72.5" y="1384.5" width="356.2" height="185.8" fill="#000"/>
<rect x="434.5" y="1384.5" width="365.5" height="185.8" fill="#000"/>
<rect x="806.0" y="1384.5" width="362.8" height="185.8" fill="#000"/>
<rect x="1174.5" y="1384.5" width="368.0" height="185.8" fill="#000"/>
<rect x="72.5" y="1577.5" width="356.2" height="186.2" fill="#000"/>
<rect x="434.5" y="1577.5" width="365.5" height="186.2" fill="#000"/>
<rect x="806.0" y="1577.5" width="362.8" height="186.2" fill="#000"/>
<rect x="1174.5" y="1577.5" width="368.0" height="186.2" fill="#000"/>
<rect x="72.5" y="1771.2" width="356.2" height="190.0" fill="#000"/>
<rect x="434.5" y="1771.2" width="365.5" height="190.0" fill="#000"/>
<rect x="806.0" y="1771.2" width="362.8" height="190.0" fill="#000"/>
<rect x="1174.5" y="1771.2" width="368.0" height="190.0" fill="#000"/>
</g>
<rect x="72.5" y="1771.2" width="356.2" height="190.0" fill="#000" opacity="0.22"/>
<g filter="url(#halo)"><rect x="857.5" y="1439.0" width="121.0" height="78.0" rx="33.0" fill="#6a6a6a" opacity="0.7"/><rect x="1006.5" y="1434.0" width="129.0" height="80.0" rx="34.0" fill="#6a6a6a" opacity="0.7"/><rect x="856.5" y="1630.0" width="122.0" height="80.0" rx="34.0" fill="#6a6a6a" opacity="0.7"/><rect x="1007.6" y="1629.0" width="126.0" height="74.0" rx="31.0" fill="#6a6a6a" opacity="0.7"/><rect x="860.0" y="1828.0" width="126.0" height="82.0" rx="35.0" fill="#6a6a6a" opacity="0.7"/><rect x="1020.0" y="1825.0" width="117.0" height="78.0" rx="33.0" fill="#6a6a6a" opacity="0.7"/><rect x="1213.5" y="1462.0" width="128.0" height="82.0" rx="35.0" fill="#5e5e5e" opacity="0.7"/><rect x="1389.0" y="1457.0" width="120.0" height="84.0" rx="36.0" fill="#5e5e5e" opacity="0.7"/><rect x="1239.0" y="1629.0" width="126.0" height="86.0" rx="37.0" fill="#5e5e5e" opacity="0.7"/><rect x="1389.0" y="1630.5" width="118.0" height="84.0" rx="36.0" fill="#5e5e5e" opacity="0.7"/><rect x="1227.6" y="1826.0" width="126.0" height="78.0" rx="33.0" fill="#5e5e5e" opacity="0.7"/><rect x="1396.0" y="1814.0" width="130.0" height="90.0" rx="39.0" fill="#5e5e5e" opacity="0.7"/><path d="M144.9,1440.5 Q130.2,1434.1 130.7,1450.1 Q125.4,1473.6 132.0,1497.3 Q132.5,1513.3 147.3,1507.1 Q182.1,1498.8 209.3,1481.1 Q224.1,1474.9 209.4,1468.5 Q180.8,1449.7 144.9,1440.5 Z" fill="#555" stroke="#555" stroke-width="10" stroke-linejoin="round" opacity="0.55"/><path d="M342.5,1430.5 Q356.5,1422.6 359.3,1438.4 Q370.4,1466.9 369.5,1495.2 Q372.3,1510.9 358.0,1503.7 Q324.1,1493.5 295.2,1472.3 Q280.9,1465.1 294.8,1457.3 Q315.0,1439.2 342.5,1430.5 Z" fill="#555" stroke="#555" stroke-width="10" stroke-linejoin="round" opacity="0.55"/><path d="M162.9,1628.0 Q149.1,1619.8 148.7,1635.8 Q142.0,1664.9 147.4,1694.4 Q147.0,1710.4 161.1,1703.0 Q191.0,1694.1 214.9,1674.7 Q229.1,1667.3 215.3,1659.1 Q192.3,1638.5 162.9,1628.0 Z" fill="#555" stroke="#555" stroke-width="10" stroke-linejoin="round" opacity="0.55"/><path d="M356.0,1636.8 Q370.3,1629.4 368.8,1645.4 Q371.8,1676.1 362.9,1706.5 Q361.4,1722.4 348.1,1713.6 Q320.3,1702.6 299.3,1681.6 Q285.9,1672.8 300.1,1665.5 Q325.5,1645.7 356.0,1636.8 Z" fill="#555" stroke="#555" stroke-width="10" stroke-linejoin="round" opacity="0.55"/><path d="M129.9,1833.3 Q135.0,1822.5 146.7,1825.3 L163.3,1829.2 Q175.0,1832.0 184.9,1838.8 L227.6,1868.2 Q237.5,1875.0 226.7,1880.2 L155.8,1914.8 Q145.0,1920.0 138.5,1909.9 L119.0,1880.1 Q112.5,1870.0 117.6,1859.2 Z" fill="#555" stroke="#555" stroke-width="10" stroke-linejoin="round" opacity="0.55"/><path d="M357.8,1833.0 Q372.5,1826.7 372.1,1842.7 Q377.5,1870.1 370.8,1896.9 Q370.4,1912.9 356.3,1905.4 Q322.1,1894.0 295.0,1872.9 Q280.9,1865.4 295.6,1859.2 Q323.4,1841.1 357.8,1833.0 Z" fill="#555" stroke="#555" stroke-width="10" stroke-linejoin="round" opacity="0.55"/><path d="M499.3,1426.7 Q485.2,1419.1 487.7,1434.9 Q486.1,1461.6 496.5,1489.3 Q499.0,1505.1 513.6,1498.6 Q542.8,1492.0 564.5,1475.9 Q579.1,1469.4 565.0,1461.8 Q535.0,1439.0 499.3,1426.7 Z" fill="#555" stroke="#555" stroke-width="10" stroke-linejoin="round" opacity="0.55"/><path d="M718.3,1428.6 Q732.9,1422.0 733.3,1438.0 Q740.1,1467.8 734.9,1497.0 Q735.3,1513.0 721.2,1505.4 Q685.4,1492.9 656.2,1470.5 Q642.1,1462.9 656.7,1456.3 Q684.1,1437.5 718.3,1428.6 Z" fill="#555" stroke="#555" stroke-width="10" stroke-linejoin="round" opacity="0.55"/><path d="M520.5,1642.7 Q506.6,1634.8 505.8,1650.8 Q498.4,1677.5 503.1,1704.6 Q502.3,1720.6 516.6,1713.5 Q546.8,1705.4 571.0,1686.8 Q585.4,1679.8 571.5,1671.8 Q549.4,1652.4 520.5,1642.7 Z" fill="#555" stroke="#555" stroke-width="10" stroke-linejoin="round" opacity="0.55"/><path d="M726.9,1637.5 Q741.0,1629.9 742.8,1645.8 Q752.7,1679.1 750.5,1712.5 Q752.3,1728.4 737.8,1721.6 Q697.5,1709.4 662.9,1686.7 Q648.4,1679.9 662.5,1672.3 Q691.0,1650.2 726.9,1637.5 Z" fill="#555" stroke="#555" stroke-width="10" stroke-linejoin="round" opacity="0.55"/><path d="M500.2,1817.4 Q485.4,1811.4 487.5,1827.3 Q485.0,1854.8 494.5,1881.8 Q496.5,1897.6 510.5,1889.9 Q543.0,1878.6 567.6,1858.2 Q581.6,1850.4 566.8,1844.4 Q536.4,1825.7 500.2,1817.4 Z" fill="#555" stroke="#555" stroke-width="10" stroke-linejoin="round" opacity="0.55"/><path d="M725.1,1817.5 Q740.0,1811.8 740.5,1827.8 Q747.3,1855.4 742.1,1882.2 Q742.6,1898.2 728.4,1890.8 Q690.7,1877.9 660.1,1855.4 Q645.9,1848.1 660.8,1842.3 Q689.4,1825.1 725.1,1817.5 Z" fill="#555" stroke="#555" stroke-width="10" stroke-linejoin="round" opacity="0.55"/></g>
<g filter="url(#part)"><path d="M144.9,1440.5 Q130.2,1434.1 130.7,1450.1 Q125.4,1473.6 132.0,1497.3 Q132.5,1513.3 147.3,1507.1 Q182.1,1498.8 209.3,1481.1 Q224.1,1474.9 209.4,1468.5 Q180.8,1449.7 144.9,1440.5 Z" fill="url(#partG)" stroke="#cecece" stroke-width="14" stroke-linejoin="round"/><path d="M342.5,1430.5 Q356.5,1422.6 359.3,1438.4 Q370.4,1466.9 369.5,1495.2 Q372.3,1510.9 358.0,1503.7 Q324.1,1493.5 295.2,1472.3 Q280.9,1465.1 294.8,1457.3 Q315.0,1439.2 342.5,1430.5 Z" fill="url(#partG)" stroke="#cecece" stroke-width="14" stroke-linejoin="round"/><circle cx="240.0" cy="1469.0" r="6.5" fill="#7a7a7a"/><circle cx="259.0" cy="1469.0" r="6.5" fill="#7a7a7a"/><circle cx="334.0" cy="1516.0" r="7.0" fill="#8a8a8a"/><path d="M162.9,1628.0 Q149.1,1619.8 148.7,1635.8 Q142.0,1664.9 147.4,1694.4 Q147.0,1710.4 161.1,1703.0 Q191.0,1694.1 214.9,1674.7 Q229.1,1667.3 215.3,1659.1 Q192.3,1638.5 162.9,1628.0 Z" fill="url(#partG)" stroke="#cecece" stroke-width="14" stroke-linejoin="round"/><path d="M356.0,1636.8 Q370.3,1629.4 368.8,1645.4 Q371.8,1676.1 362.9,1706.5 Q361.4,1722.4 348.1,1713.6 Q320.3,1702.6 299.3,1681.6 Q285.9,1672.8 300.1,1665.5 Q325.5,1645.7 356.0,1636.8 Z" fill="url(#partG)" stroke="#cecece" stroke-width="14" stroke-linejoin="round"/><circle cx="182.5" cy="1612.0" r="8.0" fill="#8a8a8a"/><path d="M129.9,1833.3 Q135.0,1822.5 146.7,1825.3 L163.3,1829.2 Q175.0,1832.0 184.9,1838.8 L227.6,1868.2 Q237.5,1875.0 226.7,1880.2 L155.8,1914.8 Q145.0,1920.0 138.5,1909.9 L119.0,1880.1 Q112.5,1870.0 117.6,1859.2 Z" fill="url(#partG)" stroke="#c6c6c6" stroke-width="3" stroke-linejoin="round"/><path d="M357.8,1833.0 Q372.5,1826.7 372.1,1842.7 Q377.5,1870.1 370.8,1896.9 Q370.4,1912.9 356.3,1905.4 Q322.1,1894.0 295.0,1872.9 Q280.9,1865.4 295.6,1859.2 Q323.4,1841.1 357.8,1833.0 Z" fill="url(#partG)" stroke="#cecece" stroke-width="14" stroke-linejoin="round"/><circle cx="292.5" cy="1832.5" r="8.0" fill="#a0a0a0"/><circle cx="280.0" cy="1846.0" r="6.0" fill="#a0a0a0"/><path d="M499.3,1426.7 Q485.2,1419.1 487.7,1434.9 Q486.1,1461.6 496.5,1489.3 Q499.0,1505.1 513.6,1498.6 Q542.8,1492.0 564.5,1475.9 Q579.1,1469.4 565.0,1461.8 Q535.0,1439.0 499.3,1426.7 Z" fill="url(#partG)" stroke="#cecece" stroke-width="14" stroke-linejoin="round"/><path d="M718.3,1428.6 Q732.9,1422.0 733.3,1438.0 Q740.1,1467.8 734.9,1497.0 Q735.3,1513.0 721.2,1505.4 Q685.4,1492.9 656.2,1470.5 Q642.1,1462.9 656.7,1456.3 Q684.1,1437.5 718.3,1428.6 Z" fill="url(#partG)" stroke="#cecece" stroke-width="14" stroke-linejoin="round"/><circle cx="507.5" cy="1397.5" r="5.8" fill="#9a9a9a"/><circle cx="522.5" cy="1407.5" r="5.8" fill="#9a9a9a"/><circle cx="467.5" cy="1437.5" r="5.8" fill="#9a9a9a"/><circle cx="470.0" cy="1452.5" r="5.8" fill="#9a9a9a"/><circle cx="476.0" cy="1467.5" r="5.8" fill="#9a9a9a"/><circle cx="595.0" cy="1457.5" r="5.8" fill="#9a9a9a"/><circle cx="605.0" cy="1472.5" r="5.8" fill="#9a9a9a"/><circle cx="620.0" cy="1462.5" r="5.8" fill="#9a9a9a"/><circle cx="622.5" cy="1477.5" r="5.8" fill="#9a9a9a"/><circle cx="652.5" cy="1492.5" r="5.8" fill="#9a9a9a"/><circle cx="687.5" cy="1417.5" r="5.8" fill="#9a9a9a"/><circle cx="670.0" cy="1426.0" r="5.8" fill="#9a9a9a"/><circle cx="735.0" cy="1407.5" r="5.8" fill="#9a9a9a"/><circle cx="755.0" cy="1470.0" r="5.8" fill="#9a9a9a"/><circle cx="747.5" cy="1520.0" r="5.8" fill="#9a9a9a"/><circle cx="730.0" cy="1525.0" r="5.8" fill="#9a9a9a"/><path d="M520.5,1642.7 Q506.6,1634.8 505.8,1650.8 Q498.4,1677.5 503.1,1704.6 Q502.3,1720.6 516.6,1713.5 Q546.8,1705.4 571.0,1686.8 Q585.4,1679.8 571.5,1671.8 Q549.4,1652.4 520.5,1642.7 Z" fill="url(#partG)" stroke="#cecece" stroke-width="14" stroke-linejoin="round"/><path d="M726.9,1637.5 Q741.0,1629.9 742.8,1645.8 Q752.7,1679.1 750.5,1712.5 Q752.3,1728.4 737.8,1721.6 Q697.5,1709.4 662.9,1686.7 Q648.4,1679.9 662.5,1672.3 Q691.0,1650.2 726.9,1637.5 Z" fill="url(#partG)" stroke="#cecece" stroke-width="14" stroke-linejoin="round"/><circle cx="475.0" cy="1607.5" r="10.0" fill="#9c9c9c"/><circle cx="482.5" cy="1625.0" r="6.0" fill="#9c9c9c"/><circle cx="476.0" cy="1640.0" r="6.0" fill="#9c9c9c"/><circle cx="477.5" cy="1655.0" r="6.0" fill="#9c9c9c"/><circle cx="479.0" cy="1672.5" r="6.0" fill="#9c9c9c"/><circle cx="570.0" cy="1642.5" r="7.0" fill="#9c9c9c"/><circle cx="587.5" cy="1650.0" r="6.0" fill="#9c9c9c"/><circle cx="602.5" cy="1664.0" r="6.0" fill="#9c9c9c"/><circle cx="622.5" cy="1670.0" r="6.0" fill="#9c9c9c"/><circle cx="607.5" cy="1680.0" r="6.0" fill="#9c9c9c"/><circle cx="630.0" cy="1685.0" r="6.0" fill="#9c9c9c"/><circle cx="640.0" cy="1700.0" r="7.0" fill="#9c9c9c"/><circle cx="692.5" cy="1725.0" r="7.0" fill="#9c9c9c"/><circle cx="682.5" cy="1642.5" r="6.0" fill="#9c9c9c"/><circle cx="700.0" cy="1635.0" r="6.0" fill="#9c9c9c"/><circle cx="765.0" cy="1627.5" r="6.0" fill="#9c9c9c"/><circle cx="782.5" cy="1637.5" r="7.0" fill="#9c9c9c"/><circle cx="782.5" cy="1657.5" r="7.0" fill="#9c9c9c"/><circle cx="772.5" cy="1675.0" r="6.0" fill="#9c9c9c"/><circle cx="770.0" cy="1695.0" r="6.0" fill="#9c9c9c"/><circle cx="775.0" cy="1717.5" r="6.0" fill="#9c9c9c"/><circle cx="765.0" cy="1742.5" r="7.0" fill="#9c9c9c"/><circle cx="762.5" cy="1730.0" r="6.0" fill="#9c9c9c"/><path d="M500.2,1817.4 Q485.4,1811.4 487.5,1827.3 Q485.0,1854.8 494.5,1881.8 Q496.5,1897.6 510.5,1889.9 Q543.0,1878.6 567.6,1858.2 Q581.6,1850.4 566.8,1844.4 Q536.4,1825.7 500.2,1817.4 Z" fill="url(#partG)" stroke="#cecece" stroke-width="14" stroke-linejoin="round"/><path d="M725.1,1817.5 Q740.0,1811.8 740.5,1827.8 Q747.3,1855.4 742.1,1882.2 Q742.6,1898.2 728.4,1890.8 Q690.7,1877.9 660.1,1855.4 Q645.9,1848.1 660.8,1842.3 Q689.4,1825.1 725.1,1817.5 Z" fill="url(#partG)" stroke="#cecece" stroke-width="14" stroke-linejoin="round"/><circle cx="537.5" cy="1805.0" r="6.0" fill="#9c9c9c"/><circle cx="490.0" cy="1802.5" r="6.0" fill="#9c9c9c"/><circle cx="475.0" cy="1887.5" r="6.0" fill="#9c9c9c"/><circle cx="483.8" cy="1903.8" r="6.0" fill="#9c9c9c"/><circle cx="552.5" cy="1895.0" r="6.0" fill="#9c9c9c"/><circle cx="570.0" cy="1890.0" r="6.0" fill="#9c9c9c"/><circle cx="585.0" cy="1900.0" r="6.0" fill="#9c9c9c"/><circle cx="590.0" cy="1880.0" r="6.0" fill="#9c9c9c"/><circle cx="602.5" cy="1852.5" r="6.0" fill="#9c9c9c"/><circle cx="615.0" cy="1862.5" r="6.0" fill="#9c9c9c"/><circle cx="602.5" cy="1867.5" r="6.0" fill="#9c9c9c"/><circle cx="627.5" cy="1847.5" r="6.0" fill="#9c9c9c"/><circle cx="647.5" cy="1872.5" r="6.0" fill="#9c9c9c"/><circle cx="657.5" cy="1882.5" r="6.0" fill="#9c9c9c"/><circle cx="675.0" cy="1895.0" r="6.0" fill="#9c9c9c"/><circle cx="692.5" cy="1808.8" r="6.0" fill="#9c9c9c"/><circle cx="747.5" cy="1777.5" r="6.0" fill="#9c9c9c"/><circle cx="750.0" cy="1792.5" r="6.0" fill="#9c9c9c"/><circle cx="762.5" cy="1807.5" r="6.0" fill="#9c9c9c"/><circle cx="765.0" cy="1822.5" r="6.0" fill="#9c9c9c"/><circle cx="765.0" cy="1837.5" r="6.0" fill="#9c9c9c"/><circle cx="762.5" cy="1855.0" r="6.0" fill="#9c9c9c"/><circle cx="750.0" cy="1902.5" r="6.0" fill="#9c9c9c"/><rect x="863.5" y="1445.0" width="109.0" height="66.0" rx="31.7" transform="rotate(-6.0 918.0 1478.0)" fill="url(#partG)" stroke="#c4c4c4" stroke-width="2.5"/><rect x="1012.5" y="1440.0" width="117.0" height="68.0" rx="32.6" transform="rotate(-3.0 1071.0 1474.0)" fill="url(#partG)" stroke="#c4c4c4" stroke-width="2.5"/><rect x="862.5" y="1636.0" width="110.0" height="68.0" rx="32.6" transform="rotate(-3.0 917.5 1670.0)" fill="url(#partG)" stroke="#c4c4c4" stroke-width="2.5"/><rect x="1013.6" y="1635.0" width="114.0" height="62.0" rx="29.8" transform="rotate(-2.0 1070.6 1666.0)" fill="url(#partG)" stroke="#c4c4c4" stroke-width="2.5"/><rect x="866.0" y="1834.0" width="114.0" height="70.0" rx="33.6" transform="rotate(-4.0 923.0 1869.0)" fill="url(#partG)" stroke="#c4c4c4" stroke-width="2.5"/><rect x="1026.0" y="1831.0" width="105.0" height="66.0" rx="31.7" transform="rotate(-3.0 1078.5 1864.0)" fill="url(#partG)" stroke="#c4c4c4" stroke-width="2.5"/><circle cx="1065.0" cy="1490.0" r="11.0" fill="#e8e8e8"/><circle cx="895.0" cy="1688.0" r="16.0" fill="#d8d8d8"/><circle cx="898.0" cy="1886.0" r="15.0" fill="#dcdcdc"/><ellipse cx="1277.5" cy="1503.0" rx="58.0" ry="35.0" transform="rotate(-8.0 1277.5 1503.0)" fill="url(#partG)" stroke="#c4c4c4" stroke-width="2.5"/><ellipse cx="1449.0" cy="1499.0" rx="54.0" ry="36.0" transform="rotate(-3.0 1449.0 1499.0)" fill="url(#partG)" stroke="#c4c4c4" stroke-width="2.5"/><ellipse cx="1302.0" cy="1672.0" rx="57.0" ry="37.0" transform="rotate(-4.0 1302.0 1672.0)" fill="url(#partG)" stroke="#c4c4c4" stroke-width="2.5"/><ellipse cx="1448.0" cy="1672.5" rx="53.0" ry="36.0" transform="rotate(-2.0 1448.0 1672.5)" fill="url(#partG)" stroke="#c4c4c4" stroke-width="2.5"/><ellipse cx="1290.6" cy="1865.0" rx="57.0" ry="33.0" transform="rotate(-5.0 1290.6 1865.0)" fill="url(#partG)" stroke="#c4c4c4" stroke-width="2.5"/><ellipse cx="1461.0" cy="1859.0" rx="59.0" ry="39.0" transform="rotate(-6.0 1461.0 1859.0)" fill="url(#partG)" stroke="#c4c4c4" stroke-width="2.5"/><path d="M1330,1688 Q1372,1686 1402,1692 L1402,1704 Q1372,1708 1335,1710 Z" fill="#b4b4b4"/></g>
<rect x="90.0" y="1549.0" width="126.0" height="6" fill="#fff"/>
<rect x="453.8" y="1547.5" width="126.2" height="6" fill="#fff"/>
<rect x="827.5" y="1548.8" width="126.2" height="6" fill="#fff"/>
<rect x="1193.8" y="1548.8" width="127.5" height="6" fill="#fff"/>
<path d="M1040.0,1441.0 L1049.8,1466.6" fill="none" stroke="#e8141c" stroke-width="3.4" stroke-linecap="round"/><path d="M1044.1,1466.6 L1052.5,1473.8 L1054.0,1462.9 Z" fill="#e8141c" stroke="#e8141c" stroke-width="1.5" stroke-linejoin="round"/>
<path d="M873.8,1608.8 L884.5,1634.2" fill="none" stroke="#e8141c" stroke-width="3.4" stroke-linecap="round"/><path d="M878.9,1634.4 L887.5,1641.2 L888.6,1630.3 Z" fill="#e8141c" stroke="#e8141c" stroke-width="1.5" stroke-linejoin="round"/>
<path d="M872.5,1827.5 L884.3,1853.0" fill="none" stroke="#e8141c" stroke-width="3.4" stroke-linecap="round"/><path d="M878.7,1853.4 L887.5,1860.0 L888.2,1849.0 Z" fill="#e8141c" stroke="#e8141c" stroke-width="1.5" stroke-linejoin="round"/>
<rect x="72.5" y="1968.0" width="356.2" height="232.0" fill="#fff"/>
<rect x="99.5" y="1995.5" width="21.5" height="26.0" fill="#f7a0f2"/>
<rect x="121.1" y="1995.5" width="21.5" height="26.0" fill="#f7a0f2"/>
<rect x="99.5" y="2099.3" width="21.5" height="26.0" fill="#f7a0f2"/>
<rect x="185.7" y="2073.4" width="21.5" height="26.0" fill="#f7a0f2"/>
<rect x="293.3" y="2021.4" width="21.5" height="26.0" fill="#f7a0f2"/>
<rect x="379.4" y="1995.5" width="21.5" height="26.0" fill="#f7a0f2"/>
<rect x="379.4" y="2073.4" width="21.5" height="26.0" fill="#f7a0f2"/>
<rect x="379.4" y="2099.3" width="21.5" height="26.0" fill="#f7a0f2"/>
<rect x="336.4" y="2099.3" width="21.5" height="26.0" fill="#f7a0f2"/>
<rect x="185.7" y="2021.4" width="21.5" height="26.0" fill="#f8bb10"/>
<rect x="207.2" y="2047.4" width="21.5" height="26.0" fill="#f8bb10"/>
<rect x="250.2" y="2047.4" width="21.5" height="26.0" fill="#f8bb10"/>
<rect x="271.8" y="2047.4" width="21.5" height="26.0" fill="#f8bb10"/>
<rect x="293.3" y="2073.4" width="21.5" height="26.0" fill="#f8bb10"/>
<rect x="228.7" y="2047.4" width="21.5" height="26.0" fill="#f20e0e"/>
<path d="M78.0,1969.5V2151.2M99.5,1969.5V2151.2M121.1,1969.5V2151.2M142.6,1969.5V2151.2M164.1,1969.5V2151.2M185.7,1969.5V2151.2M207.2,1969.5V2151.2M228.7,1969.5V2151.2M250.2,1969.5V2151.2M271.8,1969.5V2151.2M293.3,1969.5V2151.2M314.8,1969.5V2151.2M336.4,1969.5V2151.2M357.9,1969.5V2151.2M379.4,1969.5V2151.2M401.0,1969.5V2151.2M422.5,1969.5V2151.2M78.0,1969.5H422.5M78.0,1995.5H422.5M78.0,2021.4H422.5M78.0,2047.4H422.5M78.0,2073.4H422.5M78.0,2099.3H422.5M78.0,2125.3H422.5M78.0,2151.2H422.5" stroke="#666" stroke-width="1.8" fill="none"/>
<polygon points="108.8,1997.5 110.0,2122.5 225.0,2061.2" fill="none" stroke="#2c3a78" stroke-width="3.2" stroke-dasharray="0.1,6.2" stroke-linecap="round"/>
<polygon points="390.0,1998.8 390.0,2123.8 273.8,2061.2" fill="none" stroke="#2c3a78" stroke-width="3.2" stroke-dasharray="0.1,6.2" stroke-linecap="round"/>
<text x="151.2" y="2188.0" font-size="19.5" text-anchor="middle" fill="#1a1a1a" stroke="#1a1a1a" stroke-width="0.35">1 min</text>
<rect x="221.2" y="2155.5" width="40.5" height="44.5" fill="#fff"/>
<text x="241.5" y="2188.5" font-size="21.0" text-anchor="middle" fill="#111" stroke="#111" stroke-width="0.35">0</text>
<rect x="261.8" y="2155.5" width="40.5" height="44.5" fill="#f7a0f2"/>
<text x="282.0" y="2188.5" font-size="21.0" text-anchor="middle" fill="#3a0a4a" stroke="#3a0a4a" stroke-width="0.35">2</text>
<rect x="302.2" y="2155.5" width="40.5" height="44.5" fill="#f59a0e"/>
<text x="322.5" y="2188.5" font-size="21.0" text-anchor="middle" fill="#3a2000" stroke="#3a2000" stroke-width="0.35">4</text>
<rect x="342.8" y="2155.5" width="40.5" height="44.5" fill="#f20e0e"/>
<text x="363.0" y="2188.5" font-size="21.0" text-anchor="middle" fill="#600000" stroke="#600000" stroke-width="0.35">6</text>
<rect x="383.2" y="2155.5" width="40.5" height="44.5" fill="#050505"/>
<text x="403.5" y="2188.5" font-size="21.0" text-anchor="middle" fill="#fff" stroke="#fff" stroke-width="0.35">8</text>
<rect x="221.2" y="2155.5" width="202.5" height="44.5" fill="none" stroke="#333" stroke-width="1.5"/>
<rect x="434.5" y="1968.0" width="365.5" height="232.0" fill="#fff"/>
<rect x="463.5" y="1997.0" width="22.3" height="25.7" fill="#f8bb10"/>
<rect x="753.0" y="1997.0" width="22.3" height="25.7" fill="#f8bb10"/>
<rect x="463.5" y="2022.7" width="22.3" height="25.7" fill="#f8bb10"/>
<rect x="530.3" y="2022.7" width="22.3" height="25.7" fill="#f8bb10"/>
<rect x="686.2" y="2022.7" width="22.3" height="25.7" fill="#f8bb10"/>
<rect x="753.0" y="2048.4" width="22.3" height="25.7" fill="#f8bb10"/>
<rect x="686.2" y="2074.1" width="22.3" height="25.7" fill="#f8bb10"/>
<rect x="463.5" y="2099.8" width="22.3" height="25.7" fill="#f8bb10"/>
<rect x="730.7" y="2099.8" width="22.3" height="25.7" fill="#f8bb10"/>
<rect x="753.0" y="2099.8" width="22.3" height="25.7" fill="#f8bb10"/>
<rect x="485.8" y="1997.0" width="22.3" height="25.7" fill="#f7a0f2"/>
<rect x="508.0" y="1997.0" width="22.3" height="25.7" fill="#f7a0f2"/>
<rect x="708.4" y="1997.0" width="22.3" height="25.7" fill="#f7a0f2"/>
<rect x="730.7" y="1997.0" width="22.3" height="25.7" fill="#f7a0f2"/>
<rect x="663.9" y="2022.7" width="22.3" height="25.7" fill="#f7a0f2"/>
<rect x="753.0" y="2022.7" width="22.3" height="25.7" fill="#f7a0f2"/>
<rect x="463.5" y="2048.4" width="22.3" height="25.7" fill="#f7a0f2"/>
<rect x="552.6" y="2048.4" width="22.3" height="25.7" fill="#f7a0f2"/>
<rect x="663.9" y="2048.4" width="22.3" height="25.7" fill="#f7a0f2"/>
<rect x="463.5" y="2074.1" width="22.3" height="25.7" fill="#f7a0f2"/>
<rect x="753.0" y="2074.1" width="22.3" height="25.7" fill="#f7a0f2"/>
<rect x="485.8" y="2099.8" width="22.3" height="25.7" fill="#f7a0f2"/>
<rect x="508.0" y="2099.8" width="22.3" height="25.7" fill="#f7a0f2"/>
<rect x="708.4" y="2099.8" width="22.3" height="25.7" fill="#f7a0f2"/>
<rect x="552.6" y="2022.7" width="22.3" height="25.7" fill="#f20e0e"/>
<rect x="530.3" y="2074.1" width="22.3" height="25.7" fill="#f20e0e"/>
<rect x="552.6" y="2074.1" width="22.3" height="25.7" fill="#f20e0e"/>
<rect x="574.8" y="2048.4" width="22.3" height="25.7" fill="#050505"/>
<rect x="597.1" y="2048.4" width="22.3" height="25.7" fill="#050505"/>
<rect x="619.4" y="2048.4" width="22.3" height="25.7" fill="#050505"/>
<rect x="641.6" y="2048.4" width="22.3" height="25.7" fill="#050505"/>
<rect x="663.9" y="2074.1" width="22.3" height="25.7" fill="#050505"/>
<path d="M441.2,1971.2V2151.2M463.5,1971.2V2151.2M485.8,1971.2V2151.2M508.0,1971.2V2151.2M530.3,1971.2V2151.2M552.6,1971.2V2151.2M574.8,1971.2V2151.2M597.1,1971.2V2151.2M619.4,1971.2V2151.2M641.6,1971.2V2151.2M663.9,1971.2V2151.2M686.2,1971.2V2151.2M708.4,1971.2V2151.2M730.7,1971.2V2151.2M753.0,1971.2V2151.2M775.2,1971.2V2151.2M797.5,1971.2V2151.2M441.2,1971.2H797.5M441.2,1997.0H797.5M441.2,2022.7H797.5M441.2,2048.4H797.5M441.2,2074.1H797.5M441.2,2099.8H797.5M441.2,2125.5H797.5M441.2,2151.2H797.5" stroke="#666" stroke-width="1.8" fill="none"/>
<polygon points="473.8,1998.8 475.0,2123.8 580.0,2061.0" fill="none" stroke="#2c3a78" stroke-width="3.2" stroke-dasharray="0.1,6.2" stroke-linecap="round"/>
<polygon points="763.8,2000.0 763.8,2125.0 660.0,2061.0" fill="none" stroke="#2c3a78" stroke-width="3.2" stroke-dasharray="0.1,6.2" stroke-linecap="round"/>
<text x="517.5" y="2188.0" font-size="19.5" text-anchor="middle" fill="#1a1a1a" stroke="#1a1a1a" stroke-width="0.35">2 min</text>
<rect x="595.5" y="2155.5" width="41.4" height="44.5" fill="#fff"/>
<text x="616.2" y="2188.5" font-size="21.0" text-anchor="middle" fill="#111" stroke="#111" stroke-width="0.35">0</text>
<rect x="636.9" y="2155.5" width="41.4" height="44.5" fill="#f7a0f2"/>
<text x="657.6" y="2188.5" font-size="21.0" text-anchor="middle" fill="#3a0a4a" stroke="#3a0a4a" stroke-width="0.35">5</text>
<rect x="678.3" y="2155.5" width="41.4" height="44.5" fill="#f59a0e"/>
<text x="699.0" y="2188.5" font-size="21.0" text-anchor="middle" fill="#3a2000" stroke="#3a2000" stroke-width="0.35">10</text>
<rect x="719.7" y="2155.5" width="41.4" height="44.5" fill="#f20e0e"/>
<text x="740.4" y="2188.5" font-size="21.0" text-anchor="middle" fill="#600000" stroke="#600000" stroke-width="0.35">15</text>
<rect x="761.1" y="2155.5" width="41.4" height="44.5" fill="#050505"/>
<text x="781.8" y="2188.5" font-size="19.5" text-anchor="middle" fill="#fff" stroke="#fff" stroke-width="0.35">+20</text>
<rect x="595.5" y="2155.5" width="207.0" height="44.5" fill="none" stroke="#333" stroke-width="1.5"/>
<rect x="806.0" y="1968.0" width="362.8" height="232.0" fill="#fff"/>
<rect x="856.7" y="2021.8" width="22.1" height="25.9" fill="#f7a0f2"/>
<rect x="945.2" y="2021.8" width="22.1" height="25.9" fill="#f7a0f2"/>
<rect x="1011.5" y="2021.8" width="22.1" height="25.9" fill="#f7a0f2"/>
<rect x="1077.8" y="2021.8" width="22.1" height="25.9" fill="#f7a0f2"/>
<rect x="1099.9" y="2021.8" width="22.1" height="25.9" fill="#f7a0f2"/>
<rect x="1077.8" y="2047.7" width="22.1" height="25.9" fill="#f7a0f2"/>
<rect x="878.8" y="2073.6" width="22.1" height="25.9" fill="#f7a0f2"/>
<rect x="1011.5" y="2073.6" width="22.1" height="25.9" fill="#f7a0f2"/>
<rect x="1033.6" y="2073.6" width="22.1" height="25.9" fill="#f7a0f2"/>
<rect x="1099.9" y="2073.6" width="22.1" height="25.9" fill="#f7a0f2"/>
<rect x="878.8" y="2021.8" width="22.1" height="25.9" fill="#f59a0e"/>
<rect x="923.0" y="2047.7" width="22.1" height="25.9" fill="#f59a0e"/>
<rect x="1033.6" y="2047.7" width="22.1" height="25.9" fill="#f59a0e"/>
<rect x="856.7" y="2073.6" width="22.1" height="25.9" fill="#f59a0e"/>
<rect x="945.2" y="2073.6" width="22.1" height="25.9" fill="#f59a0e"/>
<rect x="945.2" y="2047.7" width="22.1" height="25.9" fill="#f8bb10"/>
<rect x="1011.5" y="2047.7" width="22.1" height="25.9" fill="#f8bb10"/>
<rect x="1055.7" y="2073.6" width="22.1" height="25.9" fill="#f8bb10"/>
<path d="M812.5,1970.0V2151.2M834.6,1970.0V2151.2M856.7,1970.0V2151.2M878.8,1970.0V2151.2M900.9,1970.0V2151.2M923.0,1970.0V2151.2M945.2,1970.0V2151.2M967.3,1970.0V2151.2M989.4,1970.0V2151.2M1011.5,1970.0V2151.2M1033.6,1970.0V2151.2M1055.7,1970.0V2151.2M1077.8,1970.0V2151.2M1099.9,1970.0V2151.2M1122.0,1970.0V2151.2M1144.1,1970.0V2151.2M1166.2,1970.0V2151.2M812.5,1970.0H1166.2M812.5,1995.9H1166.2M812.5,2021.8H1166.2M812.5,2047.7H1166.2M812.5,2073.6H1166.2M812.5,2099.5H1166.2M812.5,2125.4H1166.2M812.5,2151.2H1166.2" stroke="#666" stroke-width="1.8" fill="none"/>
<rect x="857.0" y="2024.5" width="110.0" height="74.2" rx="9" fill="none" stroke="#2c3a78" stroke-width="3.2" stroke-dasharray="0.1,6.2" stroke-linecap="round"/>
<rect x="1013.8" y="2024.5" width="108.8" height="74.2" rx="9" fill="none" stroke="#2c3a78" stroke-width="3.2" stroke-dasharray="0.1,6.2" stroke-linecap="round"/>
<text x="878.8" y="2188.0" font-size="19.5" text-anchor="middle" fill="#1a1a1a" stroke="#1a1a1a" stroke-width="0.35">1 min</text>
<rect x="955.0" y="2155.5" width="42.2" height="44.5" fill="#fff"/>
<text x="976.1" y="2188.5" font-size="21.0" text-anchor="middle" fill="#111" stroke="#111" stroke-width="0.35">0</text>
<rect x="997.2" y="2155.5" width="42.2" height="44.5" fill="#f7a0f2"/>
<text x="1018.4" y="2188.5" font-size="21.0" text-anchor="middle" fill="#3a0a4a" stroke="#3a0a4a" stroke-width="0.35">1</text>
<rect x="1039.5" y="2155.5" width="42.2" height="44.5" fill="#f59a0e"/>
<text x="1060.6" y="2188.5" font-size="21.0" text-anchor="middle" fill="#3a2000" stroke="#3a2000" stroke-width="0.35">2</text>
<rect x="1081.8" y="2155.5" width="42.2" height="44.5" fill="#f20e0e"/>
<text x="1102.9" y="2188.5" font-size="21.0" text-anchor="middle" fill="#600000" stroke="#600000" stroke-width="0.35">3</text>
<rect x="1124.0" y="2155.5" width="42.2" height="44.5" fill="#050505"/>
<text x="1145.1" y="2188.5" font-size="21.0" text-anchor="middle" fill="#fff" stroke="#fff" stroke-width="0.35">4</text>
<rect x="955.0" y="2155.5" width="211.2" height="44.5" fill="none" stroke="#333" stroke-width="1.5"/>
<rect x="1174.5" y="1968.0" width="368.0" height="232.0" fill="#fff"/>
<path d="M1176.2,1971.2V2152.5M1198.8,1971.2V2152.5M1221.4,1971.2V2152.5M1244.0,1971.2V2152.5M1266.6,1971.2V2152.5M1289.1,1971.2V2152.5M1311.7,1971.2V2152.5M1334.3,1971.2V2152.5M1356.9,1971.2V2152.5M1379.5,1971.2V2152.5M1402.0,1971.2V2152.5M1424.6,1971.2V2152.5M1447.2,1971.2V2152.5M1469.8,1971.2V2152.5M1492.3,1971.2V2152.5M1514.9,1971.2V2152.5M1537.5,1971.2V2152.5M1176.2,1971.2H1537.5M1176.2,1997.1H1537.5M1176.2,2023.0H1537.5M1176.2,2048.9H1537.5M1176.2,2074.8H1537.5M1176.2,2100.7H1537.5M1176.2,2126.6H1537.5M1176.2,2152.5H1537.5" stroke="#666" stroke-width="1.8" fill="none"/>
<rect x="1219.5" y="2026.2" width="114.2" height="72.0" rx="9" fill="none" stroke="#2c3a78" stroke-width="3.2" stroke-dasharray="0.1,6.2" stroke-linecap="round"/>
<rect x="1379.2" y="2026.2" width="114.5" height="72.0" rx="9" fill="none" stroke="#2c3a78" stroke-width="3.2" stroke-dasharray="0.1,6.2" stroke-linecap="round"/>
<text x="1247.5" y="2188.0" font-size="19.5" text-anchor="middle" fill="#1a1a1a" stroke="#1a1a1a" stroke-width="0.35">1 min</text>
<rect x="1325.0" y="2155.5" width="42.8" height="44.5" fill="#fff"/>
<text x="1346.4" y="2188.5" font-size="21.0" text-anchor="middle" fill="#111" stroke="#111" stroke-width="0.35">0</text>
<rect x="1367.8" y="2155.5" width="42.8" height="44.5" fill="#f7a0f2"/>
<text x="1389.1" y="2188.5" font-size="21.0" text-anchor="middle" fill="#3a0a4a" stroke="#3a0a4a" stroke-width="0.35">1</text>
<rect x="1410.5" y="2155.5" width="42.8" height="44.5" fill="#f59a0e"/>
<text x="1431.9" y="2188.5" font-size="21.0" text-anchor="middle" fill="#3a2000" stroke="#3a2000" stroke-width="0.35">2</text>
<rect x="1453.2" y="2155.5" width="42.8" height="44.5" fill="#f20e0e"/>
<text x="1474.6" y="2188.5" font-size="21.0" text-anchor="middle" fill="#600000" stroke="#600000" stroke-width="0.35">3</text>
<rect x="1496.0" y="2155.5" width="42.8" height="44.5" fill="#050505"/>
<text x="1517.4" y="2188.5" font-size="21.0" text-anchor="middle" fill="#fff" stroke="#fff" stroke-width="0.35">4</text>
<rect x="1325.0" y="2155.5" width="213.8" height="44.5" fill="none" stroke="#333" stroke-width="1.5"/>
<g clip-path="url(#aClip)">
<rect x="47.5" y="30" width="533.5" height="312.5" fill="url(#aBg)"/>
<rect x="47.5" y="30" width="533.5" height="312.5" fill="url(#aBgR)"/>
<ellipse cx="150" cy="60" rx="160" ry="70" fill="#fff" filter="url(#ab12)"/>
<path d="M100,322 L516,281 L545,292 L115,334 Z" fill="#9a9a9a" opacity="0.6" filter="url(#ab6)"/>
<path d="M130,43 L412,44 L480,96 L510,182 L73,207 Z" fill="url(#aOx)"/>
<path d="M130,43 L104,109" fill="none" stroke="#8cc2dc" stroke-width="4" opacity="0.8"/>
<path d="M130,43 L412,44" fill="none" stroke="#8cc2dc" stroke-width="3" opacity="0.7"/>
<path d="M410,44 L417,44 L481,94 L470,96 Z" fill="#86c0dc" opacity="0.85"/>
<path d="M268,30 L418,30 L418,118 L268,118 Z" fill="#fff" filter="url(#ab6)"/>
<ellipse cx="343" cy="95" rx="70" ry="30" fill="#fff" filter="url(#ab12)"/>
<ellipse cx="335" cy="183" rx="135" ry="24" fill="url(#aGreen)" filter="url(#ab6)"/>
<path d="M180,167 L472.5,157 L472.5,166 L180,178 Z" fill="#2e3a3a" opacity="0.75"/>
<path d="M184,122.5 L438.7,112.5 L472.5,157 L180,167.5 Z" fill="url(#aGrTop)"/>
<path d="M197.7,123.5 L195.7,166.9 M205.7,123.1 L204.9,166.6 M213.7,122.8 L214.1,166.3 M221.8,122.5 L223.4,165.9 M229.8,122.2 L232.6,165.6 M237.8,121.9 L241.8,165.3 M245.9,121.6 L251.0,164.9 M253.9,121.3 L260.3,164.6 M261.9,120.9 L269.5,164.3 M270.0,120.6 L278.7,164.0 M278.0,120.3 L288.0,163.6 M286.0,120.0 L297.2,163.3 M294.1,119.7 L306.4,163.0 M302.1,119.4 L315.6,162.6 M310.1,119.0 L324.9,162.3 M318.2,118.7 L334.1,162.0 M326.2,118.4 L343.3,161.6 M334.2,118.1 L352.5,161.3 M342.3,117.8 L361.8,161.0 M350.3,117.5 L371.0,160.6 M358.4,117.2 L380.2,160.3 M366.4,116.8 L389.5,160.0 M374.4,116.5 L398.7,159.6 M382.5,116.2 L407.9,159.3 M390.5,115.9 L417.1,159.0 M398.5,115.6 L426.4,158.7 M406.6,115.3 L435.6,158.3 M414.6,114.9 L444.8,158.0 M422.6,114.6 L454.0,157.7 M430.7,114.3 L463.3,157.3 " fill="none" stroke="#3a3a3a" stroke-width="2" opacity="0.85"/>
<path d="M268,100 L418,100 L440,160 L268,166 Z" fill="#fff" opacity="0.35" filter="url(#ab6)"/>
<path d="M99,110 L153.5,108.5 L139.5,178 L69,180 Z" fill="#c6c6c6"/>
<path d="M69,180 L139.5,178 L142.5,204 L73,207 Z" fill="#d2d2d2"/>
<path d="M153.5,108.5 L158,112 L144,204 L139.5,178 Z" fill="#3d6a84"/>
<path d="M448,97 L508,154 L509,181 L448,130 Z" fill="#3c6680"/>
<path d="M448,97 L491,96 L562,152 L508,154 Z" fill="#c4c4c4"/>
<path d="M508,154 L562,152 L551,178 L508,180 Z" fill="#cfcfcf"/>
<path d="M73,207 L552,178 L515.6,279 L102,320 Z" fill="url(#aSi)"/>
<g clip-path="url(#aSiClip)"><ellipse cx="322" cy="196" rx="120" ry="42" fill="#3dbb48" opacity="0.8" filter="url(#ab12)"/>
<ellipse cx="315" cy="205" rx="70" ry="26" fill="#5ad060" opacity="0.65" filter="url(#ab12)"/></g>
<path d="M102,320 L515.6,279" stroke="#3c3c3c" stroke-width="2"/>
<path d="M292,215.6 L244,219.2" stroke="#fff" stroke-width="2.4"/><path d="M236,219.6 l10,-5 l-1,10z" fill="#fff"/>
<path d="M345,211 L395,205" stroke="#fff" stroke-width="2.4"/><path d="M403,204.2 l-10,-5 l1,10z" fill="#fff"/>
<circle cx="300" cy="214.5" r="5.5" fill="#1e6fd0" stroke="#0a3a80" stroke-width="1"/>
<circle cx="337.5" cy="212" r="6" fill="#e0141c" stroke="#800a0a" stroke-width="1"/>
<text x="287" y="206" font-size="17" fill="#e8ffe8" font-family="'Liberation Sans', 'DejaVu Sans', sans-serif">h<tspan font-size="10" dy="-7">+</tspan></text>
<text x="328" y="205" font-size="17" fill="#e8ffe8" font-family="'Liberation Sans', 'DejaVu Sans', sans-serif">e<tspan font-size="10" dy="-7">-</tspan></text>
<path d="M304,58 L347,57.5" stroke="#d83a3a" stroke-width="2"/><path d="M300,58 l8,-3.5 v7z M350,57.5 l-8,-3.5 v7z" fill="#d83a3a"/>
<text x="319.7" y="55.3" font-size="20" fill="#d83a3a" textLength="9.5" lengthAdjust="spacingAndGlyphs">E</text>
<text x="130" y="63" fill="#f4f4f4" font-size="18.5" textLength="86" lengthAdjust="spacingAndGlyphs">Ultra-thin</text>
<text x="130" y="89.5" fill="#f4f4f4" font-size="18.5" textLength="53" lengthAdjust="spacingAndGlyphs">Oxide</text>
<text x="172" y="114" fill="#f4f4f4" font-size="18.5" textLength="87" lengthAdjust="spacingAndGlyphs">Al grating</text>
<text x="84" y="225" fill="#f4f4f4" font-size="18.5" textLength="40" lengthAdjust="spacingAndGlyphs">Al-Si</text>
<text x="86" y="248.5" fill="#f4f4f4" font-size="18.5" textLength="79" lengthAdjust="spacingAndGlyphs">Junction</text>
<text x="498" y="195" fill="#f4f4f4" font-size="18.5" textLength="40" lengthAdjust="spacingAndGlyphs">Al-Si</text>
<text x="460" y="219.5" fill="#f4f4f4" font-size="18.5" textLength="79" lengthAdjust="spacingAndGlyphs">Junction</text>
<text x="0" y="0" fill="#f4f4f4" font-size="20" textLength="137" lengthAdjust="spacingAndGlyphs" transform="translate(104,316) rotate(-7.5)">Silicon (p-type)</text>
</g>
<circle cx="246" cy="352" r="1" fill="#555"/>
<text x="-1.0" y="54.7" font-size="50" fill="#111" stroke="#fff" stroke-width="1.6">(</text><text x="18.6" y="54.7" font-size="50" fill="#111" stroke="#fff" stroke-width="0.5">a</text><text x="47.5" y="54.7" font-size="50" fill="#111" stroke="#fff" stroke-width="1.6">)</text>
<text x="580.8" y="53.5" font-size="50" fill="#111" stroke="#fff" stroke-width="1.6">(</text><text x="599.0" y="53.5" font-size="50" fill="#111" stroke="#fff" stroke-width="0.5">b</text><text x="630.1" y="53.5" font-size="50" fill="#111" stroke="#fff" stroke-width="1.6">)</text>
<text x="1110.0" y="55.0" font-size="50" fill="#111" stroke="#fff" stroke-width="1.6">(</text><text x="1128.0" y="55.0" font-size="50" fill="#111" stroke="#fff" stroke-width="0.5">c</text><text x="1157.5" y="55.0" font-size="50" fill="#111" stroke="#fff" stroke-width="1.6">)</text>
<text x="-1.5" y="413.5" font-size="50" fill="#111" stroke="#fff" stroke-width="1.6">(</text><text x="16.8" y="413.5" font-size="50" fill="#111" stroke="#fff" stroke-width="0.5">d</text><text x="48.5" y="413.5" font-size="50" fill="#111" stroke="#fff" stroke-width="1.6">)</text>
<text x="1121.0" y="434.3" font-size="50" fill="#111" stroke="#fff" stroke-width="1.6">(</text><text x="1140.6" y="434.3" font-size="50" fill="#111" stroke="#fff" stroke-width="0.5">e</text><text x="1171.1" y="434.3" font-size="50" fill="#111" stroke="#fff" stroke-width="1.6">)</text>
<text x="0.0" y="1238.0" font-size="50" fill="#111" stroke="#fff" stroke-width="1.6">(</text><text x="17.9" y="1238.0" font-size="50" fill="#111" stroke="#fff" stroke-width="0.5">f</text><text x="37.5" y="1238.0" font-size="50" fill="#111" stroke="#fff" stroke-width="1.6">)</text>

</svg>
</body></html>
